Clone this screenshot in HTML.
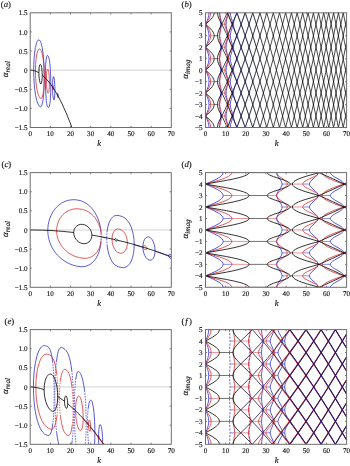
<!DOCTYPE html>
<html><head><meta charset="utf-8"><style>
html,body{margin:0;padding:0;background:#fff;}
svg{display:block;}
text{text-rendering:geometricPrecision;}
svg{will-change:transform;}
.t{font-family:"Liberation Serif",serif;font-size:7.1px;fill:#111;stroke:#111;stroke-width:0.14px;}
.k{font-family:"Liberation Serif",serif;font-size:8.5px;font-style:italic;fill:#111;stroke:#111;stroke-width:0.15px;}
.lab{font-family:"Liberation Serif",serif;font-size:8.7px;fill:#111;stroke:#111;stroke-width:0.15px;}
.al{font-family:"Liberation Serif",serif;font-size:9px;font-style:italic;fill:#111;stroke:#111;stroke-width:0.15px;}
.sub{font-size:7.2px;font-style:italic;}
</style></head><body>
<svg width="350" height="466" viewBox="0 0 350 466">
<rect width="350" height="466" fill="#fff"/>
<line x1="30.2" y1="70.15" x2="171.3" y2="70.15" stroke="#c8c8c8" stroke-width="0.8"/>
<line x1="30.2" y1="229.95" x2="171.3" y2="229.95" stroke="#c8c8c8" stroke-width="0.8"/>
<line x1="30.2" y1="386.95" x2="171.3" y2="386.95" stroke="#c8c8c8" stroke-width="0.8"/>
<defs>
<clipPath id="cp0"><rect x="30.2" y="12.8" width="141.1" height="114.7"/></clipPath>
<clipPath id="cp1"><rect x="205.5" y="12.8" width="141.1" height="114.7"/></clipPath>
<clipPath id="cp2"><rect x="30.2" y="172.6" width="141.1" height="114.7"/></clipPath>
<clipPath id="cp3"><rect x="205.5" y="172.6" width="141.1" height="114.7"/></clipPath>
<clipPath id="cp4"><rect x="30.2" y="329.6" width="141.1" height="114.7"/></clipPath>
<clipPath id="cp5"><rect x="205.5" y="329.6" width="141.1" height="114.7"/></clipPath>
</defs>
<path d="M33.68,70.58 33.9,61.72 34.48,53.98 35.41,47.46 36.63,42.71 37.33,41.17 38.07,40.21 38.84,39.91 39.61,40.25 40.33,41.16 40.99,42.64 42.19,47.34 43.23,54.68 43.94,63.88 44.27,73.82 44.19,84.01 43.73,93.26 42.91,100.61 42.4,103.22 41.82,105.2 41.21,106.39 40.54,106.88 39.96,106.75 39.27,106.16 37.96,103.96 36.77,100.51 35.7,95.87 34.85,90.43 34.22,84.25 33.82,77.49 33.68,70.58ZM45.35,77.92 45.44,70.52 45.72,64.17 46.15,59.28 46.71,56.36 47.07,55.6 47.46,55.41 48.04,55.92 48.53,56.76 49.27,59.37 49.88,63.58 50.37,69.52 50.69,76.67 50.8,84.4 50.69,92.27 50.39,98.75 49.92,103.6 49.32,106.56 48.98,107.3 48.6,107.58 48.24,107.45 47.79,106.97 47.2,105.75 46.7,103.6 46.26,100.41 45.59,90.6 45.35,77.92ZM52.51,86.84 52.69,80.87 53.18,77.2 53.51,76.6 53.84,76.93 54.45,80.19 54.85,86.33 54.9,93.03 54.56,98.01 54.29,99.43 53.96,99.95 53.69,99.7 53.43,98.91 52.95,95.99 52.63,91.67 52.51,86.84ZM57.41,94.83 57.62,93.53 57.83,93.68 58.04,94.36 58.22,96.46 57.97,97.6 57.59,96.75 57.41,94.83Z" stroke="#3030cc" stroke-width="0.8" fill="none" clip-path="url(#cp0)"/>
<path d="M35.43,71.1 35.61,64.48 36.1,58.74 36.87,53.99 37.89,50.64 38.47,49.62 39.09,49.05 39.72,48.99 40.36,49.42 40.96,50.23 41.51,51.45 42.54,55.17 43.4,60.67 44,67.43 44.27,74.67 44.21,82.01 43.82,88.65 43.14,93.93 42.22,97.25 41.69,98.15 41.14,98.52 40.65,98.45 40.09,98.04 39,96.39 38.01,93.77 37.12,90.24 36.41,86.1 35.87,81.41 35.54,76.3 35.43,71.1ZM46.41,79.03 46.63,72.83 46.9,70.66 47.24,69.36 47.45,69.06 47.66,69.03 48.17,69.75 48.59,71.2 48.94,73.42 49.39,79.47 49.37,86.28 48.92,91.37 48.58,92.73 48.18,93.23 47.8,92.98 47.48,92.31 46.93,89.45 46.54,84.69 46.41,79.03ZM52.78,87.23 52.95,85.42 53.11,85.45 53.27,86.18 53.37,88.66 53.14,90.02 52.89,89.18 52.78,87.23Z" stroke="#d83030" stroke-width="0.8" fill="none" clip-path="url(#cp0)"/>
<path d="M30.2,70.15 32.34,70.31 34.51,70.8 36.69,71.61 38.87,72.74M42.23,75.09 46.2,78.82 50.2,83.59 54.19,89.4 58.18,96.22 62.17,104.06 66.2,113.01 70.19,122.89 74.22,133.88 78.21,145.78 82.25,158.81 86.28,172.87 90.31,187.94 94.34,204.02 98.37,221.12 102.4,239.23 106.47,258.55 114.54,299.84 122.64,345.39 130.74,395 138.85,448.65 146.95,506.33 155.05,568.04 163.16,633.77 171.3,703.87M38.87,72.74 39.13,67.78 39.43,65.96 39.83,64.76 40.28,64.34 40.75,64.7 41.21,65.79 41.63,67.52 42.15,72.15 42.19,77.53 41.74,82.2 41.39,83.53 40.98,84.05 40.6,83.82 40.19,83.1 39.5,80.56 39.04,76.95 38.87,72.74Z" stroke="#000000" stroke-width="0.8" fill="none" clip-path="url(#cp0)"/>
<path d="M208.98,127.5H210.73M208.98,104.56H210.73M208.98,81.62H210.73M208.98,58.68H210.73M208.98,35.74H210.73M208.98,12.8H210.73M220.65,116.03H221.71M220.65,93.09H221.71M220.65,70.15H221.71M220.65,47.21H221.71M220.65,24.27H221.71M224.74,116.03H226.1M224.74,93.09H226.1M224.74,70.15H226.1M224.74,47.21H226.1M224.74,24.27H226.1M227.81,127.5H228.08M227.81,104.56H228.08M227.81,81.62H228.08M227.81,58.68H228.08M227.81,35.74H228.08M227.81,12.8H228.08M228.68,127.5H230.23M228.68,104.56H230.23M228.68,81.62H230.23M228.68,58.68H230.23M228.68,35.74H230.23M228.68,12.8H230.23M232.71,116.03H233.52M232.71,93.09H233.52M232.71,70.15H233.52M232.71,47.21H233.52M232.71,24.27H233.52" stroke="#5a5ad8" stroke-width="0.7" fill="none" clip-path="url(#cp1)"/>
<path d="M210.73,127.5H214.17M210.73,104.56H214.17M210.73,81.62H214.17M210.73,58.68H214.17M210.73,35.74H214.17M210.73,12.8H214.17M217.53,127.5H219.59M217.53,104.56H219.59M217.53,81.62H219.59M217.53,58.68H219.59M217.53,35.74H219.59M217.53,12.8H219.59M221.71,116.03H224.74M221.71,93.09H224.74M221.71,70.15H224.74M221.71,47.21H224.74M221.71,24.27H224.74M228.08,127.5H228.68M228.08,104.56H228.68M228.08,81.62H228.68M228.08,58.68H228.68M228.08,35.74H228.68M228.08,12.8H228.68" stroke="#e06868" stroke-width="0.7" fill="none" clip-path="url(#cp1)"/>
<path d="M214.17,127.5H217.53M214.17,104.56H217.53M214.17,81.62H217.53M214.17,58.68H217.53M214.17,35.74H217.53M214.17,12.8H217.53" stroke="#333333" stroke-width="0.7" fill="none" clip-path="url(#cp1)"/>
<path d="M233.72,136.54 234.12,134.72 234.81,132.65 237.15,127.58M226.26,136.66 227.55,130.42 227.81,127.53M230.23,127.48 230.62,124.53 232.43,118.54 232.71,116.05M233.52,116.01 233.72,113.6 234.37,110.97 235.41,108.24 237.15,104.64M206.59,136.65 207.68,134.04 208.4,131.78 208.85,129.57 208.98,127.52M219.59,127.47 219.77,124.38 220.54,118.43 220.65,116.06M226.1,116 226.3,113.45 227.55,107.48 227.81,104.59M230.23,104.54 230.62,101.59 232.43,95.6 232.71,93.11M233.52,93.07 233.72,90.66 234.37,88.03 235.41,85.3 237.15,81.7M205.5,116.03 207.19,112.32 208.2,109.55 208.81,106.91 208.98,104.58M219.59,104.53 219.77,101.44 220.54,95.49 220.65,93.12M226.1,93.06 226.3,90.51 227.55,84.54 227.81,81.65M230.23,81.6 230.62,78.65 232.43,72.66 232.71,70.17M233.52,70.13 233.72,67.72 234.37,65.09 235.41,62.36 237.15,58.76M205.5,93.09 207.19,89.38 208.2,86.61 208.81,83.97 208.98,81.64M219.59,81.59 219.77,78.5 220.54,72.55 220.65,70.18M226.1,70.12 226.3,67.57 227.55,61.6 227.81,58.71M230.23,58.66 230.62,55.71 232.43,49.72 232.71,47.23M233.52,47.19 233.72,44.78 234.37,42.15 235.41,39.42 237.15,35.82M205.5,70.15 207.19,66.44 208.2,63.67 208.81,61.03 208.98,58.7M219.59,58.65 219.77,55.56 220.54,49.61 220.65,47.24M226.1,47.18 226.3,44.63 227.55,38.66 227.81,35.77M230.23,35.72 230.62,32.77 232.43,26.78 232.71,24.29M233.52,24.25 233.72,21.84 234.37,19.21 235.41,16.48 237.15,12.88M205.5,47.21 207.19,43.5 208.2,40.73 208.81,38.09 208.98,35.76M219.59,35.71 219.77,32.62 220.54,26.67 220.65,24.3M226.1,24.24 226.3,21.69 227.55,15.72 227.81,12.83M230.23,12.78 230.62,9.83 232.47,3.65M205.5,24.27 207.19,20.56 208.2,17.79 208.81,15.15 208.98,12.82M219.59,12.77 219.77,9.68 220.54,3.73M205.5,116.03 207.19,119.74 208.2,122.51 208.81,125.15 208.98,127.48M219.59,127.53 219.77,130.62 220.54,136.57M205.5,93.09 207.19,96.8 208.2,99.57 208.81,102.21 208.98,104.54M219.59,104.59 219.77,107.68 220.54,113.63 220.65,116M226.1,116.06 226.3,118.61 227.55,124.58 227.81,127.47M230.23,127.52 230.62,130.47 232.47,136.65M205.5,70.15 207.19,73.86 208.2,76.63 208.81,79.27 208.98,81.6M219.59,81.65 219.77,84.74 220.54,90.69 220.65,93.06M226.1,93.12 226.3,95.67 227.55,101.64 227.81,104.53M230.23,104.58 230.62,107.53 232.43,113.52 232.71,116.01M233.52,116.05 233.72,118.46 234.37,121.09 235.41,123.82 237.15,127.42M205.5,47.21 207.19,50.92 208.2,53.69 208.81,56.33 208.98,58.66M219.59,58.71 219.77,61.8 220.54,67.75 220.65,70.12M226.1,70.18 226.3,72.73 227.55,78.7 227.81,81.59M230.23,81.64 230.62,84.59 232.43,90.58 232.71,93.07M233.52,93.11 233.72,95.52 234.37,98.15 235.41,100.88 237.15,104.48M205.5,24.27 207.19,27.98 208.2,30.75 208.81,33.39 208.98,35.72M219.59,35.77 219.77,38.86 220.54,44.81 220.65,47.18M226.1,47.24 226.3,49.79 227.55,55.76 227.81,58.65M230.23,58.7 230.62,61.65 232.43,67.64 232.71,70.13M233.52,70.17 233.72,72.58 234.37,75.21 235.41,77.94 237.15,81.54M206.59,3.65 207.68,6.26 208.4,8.52 208.85,10.73 208.98,12.78M219.59,12.83 219.77,15.92 220.54,21.87 220.65,24.24M226.1,24.3 226.3,26.85 227.55,32.82 227.81,35.71M230.23,35.76 230.62,38.71 232.43,44.7 232.71,47.19M233.52,47.23 233.72,49.64 234.37,52.27 235.41,55 237.15,58.6M226.26,3.64 227.55,9.88 227.81,12.77M230.23,12.82 230.62,15.77 232.43,21.76 232.71,24.25M233.52,24.29 233.72,26.7 234.37,29.33 235.41,32.06 237.15,35.66M233.72,3.76 234.12,5.58 234.81,7.65 237.15,12.72" stroke="#3030cc" stroke-width="0.8" fill="none" clip-path="url(#cp1)"/>
<path d="M225.09,136.55 227.55,130.48 227.96,128.9 228.08,127.52M228.68,127.48 228.88,125.02 229.49,122.47 230.49,119.74 232.19,116.09M207.15,136.62 208.77,134.04 209.85,131.79 210.5,129.67 210.73,127.52M219.59,127.48 219.93,124.48 221.46,118.54 221.71,116.05M224.74,116.01 225.13,113.47 227.55,107.54 227.96,105.96 228.08,104.58M228.68,104.54 228.88,102.08 229.49,99.53 230.49,96.8 232.19,93.15M205.5,116.03 208.04,112.33 209.53,109.6 210.42,107.09 210.73,104.58M219.59,104.54 219.93,101.54 221.46,95.6 221.71,93.11M224.74,93.07 225.13,90.53 227.55,84.6 227.96,83.02 228.08,81.64M228.68,81.6 228.88,79.14 229.49,76.59 230.49,73.86 232.19,70.21M205.5,93.09 208.04,89.39 209.53,86.66 210.42,84.15 210.73,81.64M219.59,81.6 219.93,78.6 221.46,72.66 221.71,70.17M224.74,70.13 225.13,67.59 227.55,61.66 227.96,60.08 228.08,58.7M228.68,58.66 228.88,56.2 229.49,53.65 230.49,50.92 232.19,47.27M205.5,70.15 208.04,66.45 209.53,63.72 210.42,61.21 210.73,58.7M219.59,58.66 219.93,55.66 221.46,49.72 221.71,47.23M224.74,47.19 225.13,44.65 227.55,38.72 227.96,37.14 228.08,35.76M228.68,35.72 228.88,33.26 229.49,30.71 230.49,27.98 232.19,24.33M205.5,47.21 208.04,43.51 209.53,40.78 210.42,38.27 210.73,35.76M219.59,35.72 219.93,32.72 221.46,26.78 221.71,24.29M224.74,24.25 225.13,21.71 227.55,15.78 227.96,14.2 228.08,12.82M228.68,12.78 228.84,10.59 229.25,8.62 229.97,6.35 231.1,3.68M205.5,24.27 208.04,20.57 209.53,17.84 210.42,15.33 210.73,12.82M219.59,12.78 219.93,9.78 221.46,3.84M205.5,116.03 208.04,119.73 209.53,122.46 210.42,124.97 210.73,127.48M219.59,127.52 219.93,130.52 221.46,136.46M205.5,93.09 208.04,96.79 209.53,99.52 210.42,102.03 210.73,104.54M219.59,104.58 219.93,107.58 221.46,113.52 221.71,116.01M224.74,116.05 225.13,118.59 227.55,124.52 227.96,126.1 228.08,127.48M228.68,127.52 228.84,129.71 229.25,131.68 229.97,133.95 231.1,136.62M205.5,70.15 208.04,73.85 209.53,76.58 210.42,79.09 210.73,81.6M219.59,81.64 219.93,84.64 221.46,90.58 221.71,93.07M224.74,93.11 225.13,95.65 227.55,101.58 227.96,103.16 228.08,104.54M228.68,104.58 228.88,107.04 229.49,109.59 230.49,112.32 232.19,115.97M205.5,47.21 208.04,50.91 209.53,53.64 210.42,56.15 210.73,58.66M219.59,58.7 219.93,61.7 221.46,67.64 221.71,70.13M224.74,70.17 225.13,72.71 227.55,78.64 227.96,80.22 228.08,81.6M228.68,81.64 228.88,84.1 229.49,86.65 230.49,89.38 232.19,93.03M205.5,24.27 208.04,27.97 209.53,30.7 210.42,33.21 210.73,35.72M219.59,35.76 219.93,38.76 221.46,44.7 221.71,47.19M224.74,47.23 225.13,49.77 227.55,55.7 227.96,57.28 228.08,58.66M228.68,58.7 228.88,61.16 229.49,63.71 230.49,66.44 232.19,70.09M207.15,3.68 208.77,6.26 209.85,8.51 210.5,10.63 210.73,12.78M219.59,12.82 219.93,15.82 221.46,21.76 221.71,24.25M224.74,24.29 225.13,26.83 227.55,32.76 227.96,34.34 228.08,35.72M228.68,35.76 228.88,38.22 229.49,40.77 230.49,43.5 232.19,47.15M225.09,3.75 227.55,9.82 227.96,11.4 228.08,12.78M228.68,12.82 228.88,15.28 229.49,17.83 230.49,20.56 232.19,24.21" stroke="#d83030" stroke-width="0.8" fill="none" clip-path="url(#cp1)"/>
<path d="M208.2,136.66 210.94,134.01 212.76,131.73 213.8,129.62 214.17,127.52M217.53,127.48 217.8,124.95 218.52,122.49 219.77,119.74 221.87,116.07M205.5,116.03 209.69,112.34 212.19,109.59 213.08,108.26 213.68,107.01 214.05,105.78 214.17,104.58M217.53,104.54 217.8,102.01 218.52,99.55 219.77,96.8 221.87,93.13M205.5,93.09 209.69,89.4 212.19,86.65 213.08,85.32 213.68,84.07 214.05,82.84 214.17,81.64M217.53,81.6 217.8,79.07 218.52,76.61 219.77,73.86 221.87,70.19M205.5,70.15 209.69,66.46 212.19,63.71 213.08,62.38 213.68,61.13 214.05,59.9 214.17,58.7M217.53,58.66 217.8,56.13 218.52,53.67 219.77,50.92 221.87,47.25M205.5,47.21 209.69,43.52 212.19,40.77 213.08,39.44 213.68,38.19 214.05,36.96 214.17,35.76M217.53,35.72 217.8,33.19 218.52,30.73 219.77,27.98 221.87,24.31M205.5,24.27 209.69,20.58 212.19,17.83 213.08,16.5 213.68,15.25 214.05,14.02 214.17,12.82M217.53,12.78 217.72,10.69 218.24,8.59 219.17,6.26 220.54,3.64M205.5,116.03 209.69,119.72 212.19,122.47 213.08,123.8 213.68,125.05 214.05,126.28 214.17,127.48M217.53,127.52 217.72,129.61 218.24,131.71 219.17,134.04 220.54,136.66M205.5,93.09 209.69,96.78 212.19,99.53 213.08,100.86 213.68,102.11 214.05,103.34 214.17,104.54M217.53,104.58 217.8,107.11 218.52,109.57 219.77,112.32 221.87,115.99M205.5,70.15 209.69,73.84 212.19,76.59 213.08,77.92 213.68,79.17 214.05,80.4 214.17,81.6M217.53,81.64 217.8,84.17 218.52,86.63 219.77,89.38 221.87,93.05M205.5,47.21 209.69,50.9 212.19,53.65 213.08,54.98 213.68,56.23 214.05,57.46 214.17,58.66M217.53,58.7 217.8,61.23 218.52,63.69 219.77,66.44 221.87,70.11M205.5,24.27 209.69,27.96 212.19,30.71 213.08,32.04 213.68,33.29 214.05,34.52 214.17,35.72M217.53,35.76 217.8,38.29 218.52,40.75 219.77,43.5 221.87,47.17M208.2,3.64 210.94,6.29 212.76,8.57 213.8,10.68 214.17,12.78M217.53,12.82 217.8,15.35 218.52,17.81 219.77,20.56 221.87,24.23" stroke="#000000" stroke-width="0.8" fill="none" clip-path="url(#cp1)"/>
<linearGradient id="gr1" gradientUnits="userSpaceOnUse" x1="231.7" y1="0" x2="265.97" y2="0"><stop offset="0" stop-color="#3030cc" stop-opacity="1"/><stop offset="1" stop-color="#3030cc" stop-opacity="0"/></linearGradient>
<path d="M270.85,136.54 274.03,125.1M264.24,136.61 274.03,102.16M257.34,136.57 265.57,109.12 274.03,79.22M250.05,136.57 255.89,118.3 261.82,98.9 267.87,78.23 274.03,56.28M242.23,136.6 249.85,114.24 257.71,89.52 265.77,62.55 274.03,33.34M237.19,127.5 245.94,102.98 255.01,75.25 264.4,44.3 274.03,10.4M237.19,104.56 244.89,83.1 252.87,59.04 261.05,32.64 269.48,3.75M237.19,81.62 243.36,64.57 249.68,45.91 256.18,25.64 262.83,3.75M237.19,58.68 241.7,46.32 246.34,32.98 255.85,3.73M237.19,35.74 242.75,20.42 248.48,3.68M237.19,12.8 240.53,3.7M237.19,127.5 240.53,136.6M237.19,104.56 242.75,119.88 248.48,136.62M237.19,81.62 241.7,93.98 246.34,107.32 255.85,136.57M237.19,58.68 243.36,75.73 249.68,94.39 256.18,114.66 262.83,136.55M237.19,35.74 244.89,57.2 252.87,81.26 261.05,107.66 269.48,136.55M237.19,12.8 245.94,37.32 255.01,65.05 264.4,96 274.03,129.9M242.23,3.7 249.85,26.06 257.71,50.78 265.77,77.75 274.03,106.96M250.05,3.73 255.89,22 261.82,41.4 267.87,62.07 274.03,84.02M257.34,3.73 265.57,31.18 274.03,61.08M264.24,3.69 274.03,38.14M270.85,3.76 274.03,15.2" stroke="url(#gr1)" stroke-width="0.6" fill="none" clip-path="url(#cp1)"/>
<path d="M346.08,136.63 346.6,134.07M341.36,136.58 346.6,111.13M336.56,136.57 346.6,88.19M331.68,136.6 346.6,65.25M326.73,136.62 336.6,90.5 346.6,42.31M321.69,136.62 334.02,79.76 346.6,19.37M316.57,136.57 330.68,72.48 345.11,3.71M311.33,136.6 325.68,72.61 340.35,3.78M305.96,136.67 313.22,105.4 320.56,72.89 335.55,3.71M300.52,136.56 307.9,105.48 315.4,72.91 322.98,39.03 330.68,3.66M294.92,136.57 302.46,105.57 310.08,73.18 317.82,39.26 325.68,3.79M289.15,136.62 296.81,105.94 304.63,73.48 312.57,39.4 320.64,3.7M283.23,136.62 291.09,106.03 299.07,73.74 307.21,39.59 315.48,3.73M277.1,136.65 285.16,106.27 293.34,74.08 301.73,39.78 310.24,3.67M270.77,136.58 279.03,106.54 287.46,74.43 296.09,40.07 304.87,3.64M264.16,136.56 272.66,106.89 281.37,74.84 290.28,40.41 299.35,3.76M257.18,136.65 265.97,107.44 275,75.51 284.27,40.86 293.75,3.64M249.85,136.56 258.96,107.97 268.35,76.27 278.03,41.47 287.94,3.72M241.9,136.62 246.58,123.31 251.38,108.97 261.25,77.47 271.45,42.39 281.98,3.73M233.16,136.66 238.03,124.17 243.07,110.42 248.23,95.5 253.55,79.31 258.96,62.09 264.48,43.71 270.08,24.31 275.81,3.75M223.04,136.66 228.2,125.51 233.56,112.72 239.12,98.33 244.89,82.32 250.81,64.81 256.86,45.92 263.07,25.53 269.44,3.64M221.91,116 226.46,106.45 231.18,95.59 236.1,83.35 241.18,69.8 246.38,55.07 251.7,39.16 257.18,21.95 262.75,3.68M221.91,93.06 225.74,85.09 229.69,76.19 233.76,66.34 237.95,55.57 242.27,43.85 246.66,31.31 255.73,3.64M221.91,70.12 228.04,57.05 234.49,41.58 241.22,23.81 248.23,3.74M221.91,47.18 226.22,38.16 230.74,27.83 235.41,16.29 240.21,3.63M221.91,24.24 226.46,14.69 231.26,3.64M221.91,116.06 226.46,125.61 231.26,136.66M221.91,93.12 226.22,102.14 230.74,112.47 235.41,124.01 240.21,136.67M221.91,70.18 228.04,83.25 234.49,98.72 241.22,116.49 248.23,136.56M221.91,47.24 225.74,55.21 229.69,64.11 233.76,73.96 237.95,84.73 242.27,96.45 246.66,108.99 255.73,136.66M221.91,24.3 226.46,33.85 231.18,44.71 236.1,56.95 241.18,70.5 246.38,85.23 251.7,101.14 257.18,118.35 262.75,136.62M223.04,3.64 228.2,14.79 233.56,27.58 239.12,41.97 244.89,57.98 250.81,75.49 256.86,94.38 263.07,114.77 269.44,136.66M233.16,3.64 238.03,16.13 243.07,29.88 248.23,44.8 253.55,60.99 258.96,78.21 264.48,96.59 270.08,115.99 275.81,136.55M241.9,3.68 246.58,16.99 251.38,31.33 261.25,62.83 271.45,97.91 281.98,136.57M249.85,3.74 258.96,32.33 268.35,64.03 278.03,98.83 287.94,136.58M257.18,3.65 265.97,32.86 275,64.79 284.27,99.44 293.75,136.66M264.16,3.74 272.66,33.41 281.37,65.46 290.28,99.89 299.35,136.54M270.77,3.72 279.03,33.76 287.46,65.87 296.09,100.23 304.87,136.66M277.1,3.65 285.16,34.03 293.34,66.22 301.73,100.52 310.24,136.63M283.23,3.68 291.09,34.27 299.07,66.56 307.21,100.71 315.48,136.57M289.15,3.68 296.81,34.36 304.63,66.82 312.57,100.9 320.64,136.6M294.92,3.73 302.46,34.73 310.08,67.12 317.82,101.04 325.68,136.51M300.52,3.74 307.9,34.82 315.4,67.39 322.98,101.27 330.68,136.64M305.96,3.63 313.22,34.9 320.56,67.41 335.55,136.59M311.33,3.7 325.68,67.69 340.35,136.52M316.57,3.73 330.68,67.82 345.11,136.59M321.69,3.68 334.02,60.54 346.6,120.93M326.73,3.68 336.6,49.8 346.6,97.99M331.68,3.7 346.6,75.05M336.56,3.73 346.6,52.11M341.36,3.72 346.6,29.17M346.08,3.67 346.6,6.23" stroke="#000" stroke-width="0.72" fill="none" clip-path="url(#cp1)"/>
<path d="M47.8,230.37 47.93,227.17 48.28,224.4 48.88,221.46 49.8,218.4 50.91,215.62 52.18,213.12 53.66,210.75 55.36,208.53 57.27,206.49 59.23,204.78 61.52,203.18 63.8,201.93 66.2,200.95 68.7,200.24 71.26,199.83 73.86,199.7 76.25,199.85 79.01,200.3 81.32,200.95 83.54,201.85 85.65,202.99 87.78,204.47 89.75,206.17 91.68,208.19 93.41,210.39 95.06,212.89 96.5,215.52 97.74,218.25 98.85,221.24 99.76,224.31 100.54,227.82 101.01,230.98M100.99,242.95 100.55,245.91 99.85,249.03 98.98,251.9 97.96,254.5 96.81,256.83 95.44,259.04 93.97,260.94 92.29,262.65 90.57,264.01 88.86,265.04 86.84,265.89 84.91,266.41 82.92,266.66 80.73,266.66 78.15,266.37 75.6,265.87 72.72,265.04 69.92,263.97 67.22,262.67 64.64,261.15 62.19,259.42 59.89,257.5 57.62,255.25 55.67,252.97 53.92,250.54 52.36,247.98 51.02,245.3 49.84,242.33 49.02,239.65 48.33,236.53 47.94,233.56 47.8,230.37M107.08,231.24 107.85,226.71 109.04,222.69 110.61,219.45 111.53,218.15 112.5,217.13 113.44,216.4 114.5,215.84 116.64,215.38 119.41,215.69 122.83,216.8 125.21,218.27 127.36,220.35 129.3,223.13 130.9,226.36 132.29,230.32 133.3,234.6 133.97,239.35 134.21,244.14 134.04,248.93 133.48,253.5 132.54,257.59 131.3,260.97 129.74,263.75 127.86,265.82 125.82,267.06 123.49,267.58 122.09,267.55 120.51,267.3 118.57,266.81 117.08,266.25 114.73,264.73 112.71,262.53 110.77,259.27 109.21,255.37 107.99,250.73 107.15,245.6M142.88,247.03 143.09,244.04 143.65,241.51 144.6,239.31 145.85,237.76 147.23,236.98 148.02,236.85 148.81,236.93 150.42,237.71 151.8,239.15 153.11,241.39 154.15,244.2 154.81,247.33 155.07,250.52 154.9,253.51 154.33,256.04 153.43,258.04 152.11,259.54 150.67,260.19 149.09,260.06 147.53,259.19 146.01,257.6 144.68,255.37 143.69,252.76 143.1,250.02 142.88,247.03M168.48,255.68 168.68,254.92 169.29,254.45 170.08,254.41 170.99,254.77 171.74,255.41 172.28,256.24 172.51,257.19 172.31,257.95 171.88,258.35 171.31,258.49 170,258.1 168.89,256.99 168.48,255.68" stroke="#3030cc" stroke-width="0.8" fill="none" clip-path="url(#cp2)"/>
<path d="M100.99,230.79 101.35,236.77 100.97,243.15M106.7,237.82 106.81,234.23 107.1,231.04M107.17,245.8 106.82,241.82 106.7,237.82" stroke="#5a5ad8" stroke-width="0.9" stroke-dasharray="1.6,1.1" fill="none" clip-path="url(#cp2)"/>
<path d="M56.61,230.89 56.72,228.49 57.03,226.32 57.53,224.18 58.29,221.9 59.2,219.9 60.3,218 61.59,216.22 62.91,214.72 64.53,213.23 66.13,212.04 68.02,210.92 69.85,210.1 71.74,209.47 73.89,209 75.88,208.79 78.07,208.78 82.42,209.42 84.53,210.04 86.38,210.79 88.15,211.72 89.99,212.92 91.71,214.29 93.3,215.81 94.87,217.63 96.27,219.57 98.57,223.78 100.24,228.48 101.15,233.19M101.14,240.57 100.25,245.07 99.56,247.16 98.68,249.18 97.71,250.93 96.57,252.56 95.25,254.06 93.91,255.26 92.43,256.29 90.84,257.12 89.34,257.68 87.59,258.11 84.01,258.33 79.66,257.74 75.07,256.35 72.87,255.39 70.58,254.16 68.41,252.74 66.51,251.27 63.11,247.89 61.63,246.01 60.31,244 58.3,239.87 57.6,237.79 57.04,235.46 56.72,233.28 56.61,230.89M112.04,238.96 112.27,235.98 112.98,233.28 114.09,231.16 114.87,230.26 115.65,229.64 117.33,229.02 119.3,229.16 121.52,230.05 123.39,231.54 124.85,233.43 126.1,235.93 126.95,238.79 127.34,241.76 127.23,244.95 126.67,247.69 125.67,250.07 124.34,251.81 123.39,252.54 122.49,252.96 121.52,253.19 120.33,253.2 118.96,252.93 117.84,252.49 116.83,251.85 115.95,251.05 114.32,248.78 113.08,245.84 112.31,242.54 112.04,238.96M143.08,247.1 143.26,246.34 143.83,245.81 144.6,245.69 145.35,245.92 146.14,246.5 146.69,247.32 146.91,248.27 146.73,249.03 146.33,249.47 145.78,249.67 144.64,249.45 143.99,249 143.49,248.4 143.08,247.1" stroke="#d83030" stroke-width="0.8" fill="none" clip-path="url(#cp2)"/>
<path d="M101.12,232.99 101.35,236.78 101.11,240.77" stroke="#e06868" stroke-width="0.9" stroke-dasharray="1.6,1.1" fill="none" clip-path="url(#cp2)"/>
<path d="M30.2,229.95 41.08,230.11 51.97,230.59 62.85,231.38 73.74,232.5M91.88,235.07 103.37,237.15 114.86,239.59M117.08,240.11 130.66,243.53 144.21,247.44 157.75,251.84 171.3,256.74M73.74,232.5 73.97,230.47 74.6,228.66 75.6,227.11 76.97,225.82 78.6,224.9 80.42,224.42 82.33,224.37 84.29,224.76 86.2,225.59 87.93,226.79 89.43,228.34 90.61,230.13 91.43,232.1 91.83,234.1 91.83,236.09 91.43,238.1 90.79,239.62 89.93,240.92 88.83,242.01 87.52,242.87 86.06,243.43 84.52,243.68 82.92,243.63 81.33,243.28 79.79,242.63 78.33,241.71 77.01,240.54 75.88,239.17 74.97,237.64 74.29,235.96 73.88,234.23 73.74,232.5ZM114.86,239.59 114.97,239.13 115.27,238.8 115.71,238.68 116.2,238.78 116.95,239.54 117.08,240.05 116.99,240.53 116.5,240.98 115.77,240.93 115.12,240.38 114.86,239.59Z" stroke="#000000" stroke-width="0.8" fill="none" clip-path="url(#cp2)"/>
<path d="M223.1,287.3H231.91M223.1,264.36H231.91M223.1,241.42H231.91M223.1,218.48H231.91M223.1,195.54H231.91M223.1,172.6H231.91M282,275.83H287.34M282,252.89H287.34M282,229.95H287.34M282,207.01H287.34M282,184.07H287.34M302.66,275.83H309.51M302.66,252.89H309.51M302.66,229.95H309.51M302.66,207.01H309.51M302.66,184.07H309.51M318.18,287.3H318.38M318.18,264.36H318.38M318.18,241.42H318.38M318.18,218.48H318.38M318.18,195.54H318.38M318.18,172.6H318.38M322.21,287.3H330.37M322.21,264.36H330.37M322.21,241.42H330.37M322.21,218.48H330.37M322.21,195.54H330.37M322.21,172.6H330.37M343.78,275.83H347.81M343.78,252.89H347.81M343.78,229.95H347.81M343.78,207.01H347.81M343.78,184.07H347.81" stroke="#5a5ad8" stroke-width="0.7" fill="none" clip-path="url(#cp3)"/>
<path d="M231.91,287.3H249.04M231.91,264.36H249.04M231.91,241.42H249.04M231.91,218.48H249.04M231.91,195.54H249.04M231.91,172.6H249.04M267.18,287.3H276.65M267.18,264.36H276.65M267.18,241.42H276.65M267.18,218.48H276.65M267.18,195.54H276.65M267.18,172.6H276.65M287.34,275.83H290.16M287.34,252.89H290.16M287.34,229.95H290.16M287.34,207.01H290.16M287.34,184.07H290.16M292.38,275.83H302.66M292.38,252.89H302.66M292.38,229.95H302.66M292.38,207.01H302.66M292.38,184.07H302.66M318.38,287.3H322.21M318.38,264.36H322.21M318.38,241.42H322.21M318.38,218.48H322.21M318.38,195.54H322.21M318.38,172.6H322.21" stroke="#e06868" stroke-width="0.7" fill="none" clip-path="url(#cp3)"/>
<path d="M249.04,287.3H267.18M249.04,264.36H267.18M249.04,241.42H267.18M249.04,218.48H267.18M249.04,195.54H267.18M249.04,172.6H267.18M290.16,275.83H292.38M290.16,252.89H292.38M290.16,229.95H292.38M290.16,207.01H292.38M290.16,184.07H292.38" stroke="#333333" stroke-width="0.7" fill="none" clip-path="url(#cp3)"/>
<path d="M310.36,296.45 311.81,294.82 315.48,291.62 316.85,290.24 317.86,288.72 318.18,287.31M330.37,287.29 330.51,286.55 330.88,285.88 332.45,284.35 334.59,282.95 340.15,279.83 342.25,278.35 343.42,277.04 343.78,275.84M210.94,296.47 216.51,293.84 220.17,291.57 221.46,290.47 222.35,289.43 222.92,288.35 223.1,287.31M276.65,287.3 276.82,286.02 277.26,284.79 278.11,283.3 281.17,278.78 281.77,277.33 282,275.84M309.51,275.82 309.75,274.6 310.52,273.29 311.89,271.8 315.48,268.68 316.85,267.3 317.86,265.78 318.18,264.37M330.37,264.35 330.51,263.61 330.88,262.94 332.45,261.41 334.59,260.01 340.15,256.89 342.25,255.41 343.42,254.1 343.78,252.9M205.5,275.83 213.97,272.17 219.05,269.42 220.86,268.08 222.11,266.82 222.84,265.62 223.1,264.37M276.65,264.36 276.82,263.08 277.26,261.85 278.11,260.36 281.17,255.84 281.77,254.39 282,252.9M309.51,252.88 309.75,251.66 310.52,250.35 311.89,248.86 315.48,245.74 316.85,244.36 317.86,242.84 318.18,241.43M330.37,241.41 330.51,240.67 330.88,240 332.45,238.47 334.59,237.07 340.15,233.95 342.25,232.47 343.42,231.16 343.78,229.96M205.5,252.89 213.97,249.23 219.05,246.48 220.86,245.14 222.11,243.88 222.84,242.68 223.1,241.43M276.65,241.42 276.82,240.14 277.26,238.91 278.11,237.42 281.17,232.9 281.77,231.45 282,229.96M309.51,229.94 309.75,228.72 310.52,227.41 311.89,225.92 315.48,222.8 316.85,221.42 317.86,219.9 318.18,218.49M330.37,218.47 330.51,217.73 330.88,217.06 332.45,215.53 334.59,214.13 340.15,211.01 342.25,209.53 343.42,208.22 343.78,207.02M205.5,229.95 213.97,226.29 219.05,223.54 220.86,222.2 222.11,220.94 222.84,219.74 223.1,218.49M276.65,218.48 276.82,217.2 277.26,215.97 278.11,214.48 281.17,209.96 281.77,208.51 282,207.02M309.51,207 309.75,205.78 310.52,204.47 311.89,202.98 315.48,199.86 316.85,198.48 317.86,196.96 318.18,195.55M330.37,195.53 330.51,194.79 330.88,194.12 332.45,192.59 334.59,191.19 340.15,188.07 342.25,186.59 343.42,185.28 343.78,184.08M205.5,207.01 213.97,203.35 219.05,200.6 220.86,199.26 222.11,198 222.84,196.8 223.1,195.55M276.65,195.54 276.82,194.26 277.26,193.03 278.11,191.54 281.17,187.02 281.77,185.57 282,184.08M309.51,184.06 309.75,182.84 310.52,181.53 311.89,180.04 315.48,176.92 316.85,175.54 317.86,174.02 318.18,172.61M330.37,172.59 330.51,171.85 330.88,171.18 332.41,169.68 334.55,168.28 340.27,165.05 342.49,163.43M205.5,184.07 213.97,180.41 219.05,177.66 220.86,176.32 222.11,175.06 222.84,173.86 223.1,172.61M276.65,172.6 276.86,171.17 277.46,169.69 280.57,165.1 281.45,163.5M205.5,275.83 213.97,279.49 219.05,282.24 220.86,283.58 222.11,284.84 222.84,286.04 223.1,287.29M276.65,287.3 276.86,288.73 277.46,290.21 280.57,294.8 281.45,296.4M205.5,252.89 213.97,256.55 219.05,259.3 220.86,260.64 222.11,261.9 222.84,263.1 223.1,264.35M276.65,264.36 276.82,265.64 277.26,266.87 278.11,268.36 281.17,272.88 281.77,274.33 282,275.82M309.51,275.84 309.75,277.06 310.52,278.37 311.89,279.86 315.48,282.98 316.85,284.36 317.86,285.88 318.18,287.29M330.37,287.31 330.51,288.05 330.88,288.72 332.41,290.22 334.55,291.62 340.27,294.85 342.49,296.47M205.5,229.95 213.97,233.61 219.05,236.36 220.86,237.7 222.11,238.96 222.84,240.16 223.1,241.41M276.65,241.42 276.82,242.7 277.26,243.93 278.11,245.42 281.17,249.94 281.77,251.39 282,252.88M309.51,252.9 309.75,254.12 310.52,255.43 311.89,256.92 315.48,260.04 316.85,261.42 317.86,262.94 318.18,264.35M330.37,264.37 330.51,265.11 330.88,265.78 332.45,267.31 334.59,268.71 340.15,271.83 342.25,273.31 343.42,274.62 343.78,275.82M205.5,207.01 213.97,210.67 219.05,213.42 220.86,214.76 222.11,216.02 222.84,217.22 223.1,218.47M276.65,218.48 276.82,219.76 277.26,220.99 278.11,222.48 281.17,227 281.77,228.45 282,229.94M309.51,229.96 309.75,231.18 310.52,232.49 311.89,233.98 315.48,237.1 316.85,238.48 317.86,240 318.18,241.41M330.37,241.43 330.51,242.17 330.88,242.84 332.45,244.37 334.59,245.77 340.15,248.89 342.25,250.37 343.42,251.68 343.78,252.88M205.5,184.07 213.97,187.73 219.05,190.48 220.86,191.82 222.11,193.08 222.84,194.28 223.1,195.53M276.65,195.54 276.82,196.82 277.26,198.05 278.11,199.54 281.17,204.06 281.77,205.51 282,207M309.51,207.02 309.75,208.24 310.52,209.55 311.89,211.04 315.48,214.16 316.85,215.54 317.86,217.06 318.18,218.47M330.37,218.49 330.51,219.23 330.88,219.9 332.45,221.43 334.59,222.83 340.15,225.95 342.25,227.43 343.42,228.74 343.78,229.94M210.94,163.43 216.51,166.06 220.17,168.33 221.46,169.43 222.35,170.47 222.92,171.55 223.1,172.59M276.65,172.6 276.82,173.88 277.26,175.11 278.11,176.6 281.17,181.12 281.77,182.57 282,184.06M309.51,184.08 309.75,185.3 310.52,186.61 311.89,188.1 315.48,191.22 316.85,192.6 317.86,194.12 318.18,195.53M330.37,195.55 330.51,196.29 330.88,196.96 332.45,198.49 334.59,199.89 340.15,203.01 342.25,204.49 343.42,205.8 343.78,207M310.36,163.45 311.81,165.08 315.48,168.28 316.85,169.66 317.86,171.18 318.18,172.59M330.37,172.61 330.51,173.35 330.88,174.02 332.45,175.55 334.59,176.95 340.15,180.07 342.25,181.55 343.42,182.86 343.78,184.06" stroke="#3030cc" stroke-width="0.8" fill="none" clip-path="url(#cp3)"/>
<path d="M304.19,296.45 306.81,294.83 313.46,291.63 315.96,290.24 317.78,288.74 318.22,288.04 318.38,287.31M322.21,287.29 322.53,286.03 323.42,284.82 324.95,283.55 327.09,282.25 333.18,279.51 343.42,275.84M213.68,296.47 222.03,293.83 227.55,291.55 229.45,290.48 230.82,289.4 231.62,288.37 231.91,287.31M276.65,287.3 276.94,286.11 277.86,284.79 279.56,283.3 283.99,280.17 285.69,278.78 286.93,277.26 287.34,275.84M302.66,275.82 302.82,275.09 303.26,274.39 305.08,272.89 307.58,271.5 314.11,268.36 316.57,266.89 317.94,265.59 318.26,265 318.38,264.37M322.21,264.35 322.53,263.09 323.42,261.88 324.95,260.61 327.09,259.31 333.18,256.57 343.42,252.9M205.5,275.83 218.24,272.15 222.47,270.73 225.86,269.4 228.52,268.1 230.41,266.83 231.54,265.57 231.91,264.37M276.65,264.36 276.94,263.17 277.86,261.85 279.56,260.36 283.99,257.23 285.69,255.84 286.93,254.32 287.34,252.9M302.66,252.88 302.82,252.15 303.26,251.45 305.08,249.95 307.58,248.56 314.11,245.42 316.57,243.95 317.94,242.65 318.26,242.06 318.38,241.43M322.21,241.41 322.53,240.15 323.42,238.94 324.95,237.67 327.09,236.37 333.18,233.63 343.42,229.96M205.5,252.89 218.24,249.21 222.47,247.79 225.86,246.46 228.52,245.16 230.41,243.89 231.54,242.63 231.91,241.43M276.65,241.42 276.94,240.23 277.86,238.91 279.56,237.42 283.99,234.29 285.69,232.9 286.93,231.38 287.34,229.96M302.66,229.94 302.78,229.31 303.1,228.72 304.47,227.42 306.93,225.95 313.46,222.81 315.96,221.42 317.78,219.92 318.22,219.22 318.38,218.49M322.21,218.47 322.53,217.21 323.42,216 324.95,214.73 327.09,213.43 333.18,210.69 343.42,207.02M205.5,229.95 218.24,226.27 222.47,224.85 225.86,223.52 228.52,222.22 230.41,220.95 231.54,219.69 231.91,218.49M276.65,218.48 276.94,217.29 277.86,215.97 279.56,214.48 283.99,211.35 285.69,209.96 286.93,208.44 287.34,207.02M302.66,207 302.78,206.37 303.1,205.78 304.47,204.48 306.93,203.01 313.46,199.87 315.96,198.48 317.78,196.98 318.22,196.28 318.38,195.55M322.21,195.53 322.53,194.27 323.42,193.06 324.95,191.79 327.09,190.49 333.18,187.75 343.42,184.08M205.5,207.01 218.24,203.33 222.47,201.91 225.86,200.58 228.52,199.28 230.41,198.01 231.54,196.75 231.91,195.55M276.65,195.54 276.94,194.35 277.86,193.03 279.56,191.54 283.99,188.41 285.69,187.02 286.93,185.5 287.34,184.08M302.66,184.06 302.82,183.33 303.26,182.63 305.08,181.13 307.58,179.74 314.11,176.6 316.57,175.13 317.94,173.83 318.26,173.24 318.38,172.61M322.21,172.59 322.45,171.5 323.1,170.48 324.19,169.42 325.72,168.34 330.15,166.07 336.84,163.43M205.5,184.07 218.24,180.39 222.47,178.97 225.86,177.64 228.52,176.34 230.41,175.07 231.54,173.81 231.91,172.61M276.65,172.6 277.06,171.17 278.31,169.65 280,168.26 284.52,165.07 286.29,163.46M205.5,275.83 218.24,279.51 222.47,280.93 225.86,282.26 228.52,283.56 230.41,284.83 231.54,286.09 231.91,287.29M276.65,287.3 277.06,288.73 278.31,290.25 280,291.64 284.52,294.83 286.29,296.44M205.5,252.89 218.24,256.57 222.47,257.99 225.86,259.32 228.52,260.62 230.41,261.89 231.54,263.15 231.91,264.35M276.65,264.36 276.94,265.55 277.86,266.87 279.56,268.36 283.99,271.49 285.69,272.88 286.93,274.4 287.34,275.82M302.66,275.84 302.82,276.57 303.26,277.27 305.08,278.77 307.58,280.16 314.11,283.3 316.57,284.77 317.94,286.07 318.26,286.66 318.38,287.29M322.21,287.31 322.45,288.4 323.1,289.42 324.19,290.48 325.72,291.56 330.15,293.83 336.84,296.47M205.5,229.95 218.24,233.63 222.47,235.05 225.86,236.38 228.52,237.68 230.41,238.95 231.54,240.21 231.91,241.41M276.65,241.42 276.94,242.61 277.86,243.93 279.56,245.42 283.99,248.55 285.69,249.94 286.93,251.46 287.34,252.88M302.66,252.9 302.82,253.63 303.26,254.33 305.08,255.83 307.58,257.22 314.11,260.36 316.57,261.83 317.94,263.13 318.26,263.72 318.38,264.35M322.21,264.37 322.53,265.63 323.42,266.84 324.95,268.11 327.09,269.41 333.18,272.15 343.42,275.82M205.5,207.01 218.24,210.69 222.47,212.11 225.86,213.44 228.52,214.74 230.41,216.01 231.54,217.27 231.91,218.47M276.65,218.48 276.94,219.67 277.86,220.99 279.56,222.48 283.99,225.61 285.69,227 286.93,228.52 287.34,229.94M302.66,229.96 302.82,230.69 303.26,231.39 305.08,232.89 307.58,234.28 314.11,237.42 316.57,238.89 317.94,240.19 318.26,240.78 318.38,241.41M322.21,241.43 322.53,242.69 323.42,243.9 324.95,245.17 327.09,246.47 333.18,249.21 343.42,252.88M205.5,184.07 218.24,187.75 222.47,189.17 225.86,190.5 228.52,191.8 230.41,193.07 231.54,194.33 231.91,195.53M276.65,195.54 276.94,196.73 277.86,198.05 279.56,199.54 283.99,202.67 285.69,204.06 286.93,205.58 287.34,207M302.66,207.02 302.82,207.75 303.26,208.45 305.08,209.95 307.58,211.34 314.11,214.48 316.57,215.95 317.94,217.25 318.26,217.84 318.38,218.47M322.21,218.49 322.53,219.75 323.42,220.96 324.95,222.23 327.09,223.53 333.18,226.27 343.42,229.94M213.68,163.43 222.03,166.07 227.55,168.35 229.45,169.42 230.82,170.5 231.62,171.53 231.91,172.59M276.65,172.6 276.94,173.79 277.86,175.11 279.56,176.6 283.99,179.73 285.69,181.12 286.93,182.64 287.34,184.06M302.66,184.08 302.82,184.81 303.26,185.51 305.08,187.01 307.58,188.4 314.11,191.54 316.57,193.01 317.94,194.31 318.26,194.9 318.38,195.53M322.21,195.55 322.53,196.81 323.42,198.02 324.95,199.29 327.09,200.59 333.18,203.33 343.42,207M304.19,163.45 306.81,165.07 313.46,168.27 315.96,169.66 317.78,171.16 318.22,171.86 318.38,172.59M322.21,172.61 322.53,173.87 323.42,175.08 324.95,176.35 327.09,177.65 333.18,180.39 343.42,184.06" stroke="#d83030" stroke-width="0.8" fill="none" clip-path="url(#cp3)"/>
<path d="M293.71,296.45 295,295.5 296.73,294.53 301.61,292.49 308.38,290.28 318.9,287.31M218.96,296.47 232.75,293.83 241.86,291.55 245.01,290.47 247.27,289.39 248.6,288.34 248.92,287.84 249.04,287.31M267.18,287.29 267.34,286.69 267.83,286.07 269.8,284.78 273.43,283.29 282.94,280.17 286.61,278.78 289.27,277.27 289.92,276.58 290.16,275.84M292.38,275.82 292.74,274.62 293.87,273.37 295.76,272.1 298.46,270.79 301.85,269.46 306.12,268.04 318.9,264.37M205.5,275.83 226.54,272.15 233.56,270.72 239.08,269.4 243.48,268.09 246.58,266.83 248.43,265.58 248.88,264.99 249.04,264.37M267.18,264.35 267.34,263.75 267.83,263.13 269.8,261.84 273.43,260.35 282.94,257.23 286.61,255.84 289.27,254.33 289.92,253.64 290.16,252.9M292.38,252.88 292.74,251.68 293.87,250.43 295.76,249.16 298.46,247.85 301.85,246.52 306.12,245.1 318.9,241.43M205.5,252.89 226.54,249.21 233.56,247.78 239.08,246.46 243.48,245.15 246.58,243.89 248.43,242.64 248.88,242.05 249.04,241.43M267.18,241.41 267.34,240.81 267.83,240.19 269.8,238.9 273.43,237.41 282.94,234.29 286.61,232.9 289.27,231.39 289.92,230.7 290.16,229.96M292.38,229.94 292.74,228.74 293.87,227.49 295.76,226.22 298.46,224.91 301.85,223.58 306.12,222.16 318.9,218.49M205.5,229.95 226.54,226.27 233.56,224.84 239.08,223.52 243.48,222.21 246.58,220.95 248.43,219.7 248.88,219.11 249.04,218.49M267.18,218.47 267.34,217.87 267.83,217.25 269.8,215.96 273.43,214.47 282.94,211.35 286.61,209.96 289.27,208.45 289.92,207.76 290.16,207.02M292.38,207 292.74,205.8 293.87,204.55 295.76,203.28 298.46,201.97 301.85,200.64 306.12,199.22 318.9,195.55M205.5,207.01 226.54,203.33 233.56,201.9 239.08,200.58 243.48,199.27 246.58,198.01 248.43,196.76 248.88,196.17 249.04,195.55M267.18,195.53 267.34,194.93 267.83,194.31 269.8,193.02 273.43,191.53 282.94,188.41 286.61,187.02 289.27,185.51 289.92,184.82 290.16,184.08M292.38,184.06 292.74,182.86 293.87,181.61 295.76,180.34 298.46,179.03 301.85,177.7 306.12,176.28 318.9,172.61M205.5,184.07 226.54,180.39 233.56,178.96 239.08,177.64 243.48,176.33 246.58,175.07 248.43,173.82 248.88,173.23 249.04,172.61M267.18,172.59 267.42,171.85 268.07,171.16 270.69,169.67 274.32,168.28 284.15,165.05 287.94,163.44M205.5,275.83 226.54,279.51 233.56,280.94 239.08,282.26 243.48,283.57 246.58,284.83 248.43,286.08 248.88,286.67 249.04,287.29M267.18,287.31 267.42,288.05 268.07,288.74 270.69,290.23 274.32,291.62 284.15,294.85 287.94,296.46M205.5,252.89 226.54,256.57 233.56,258 239.08,259.32 243.48,260.63 246.58,261.89 248.43,263.14 248.88,263.73 249.04,264.35M267.18,264.37 267.34,264.97 267.83,265.59 269.8,266.88 273.43,268.37 282.94,271.49 286.61,272.88 289.27,274.39 289.92,275.08 290.16,275.82M292.38,275.84 292.74,277.04 293.87,278.29 295.76,279.56 298.46,280.87 301.85,282.2 306.12,283.62 318.9,287.29M205.5,229.95 226.54,233.63 233.56,235.06 239.08,236.38 243.48,237.69 246.58,238.95 248.43,240.2 248.88,240.79 249.04,241.41M267.18,241.43 267.34,242.03 267.83,242.65 269.8,243.94 273.43,245.43 282.94,248.55 286.61,249.94 289.27,251.45 289.92,252.14 290.16,252.88M292.38,252.9 292.74,254.1 293.87,255.35 295.76,256.62 298.46,257.93 301.85,259.26 306.12,260.68 318.9,264.35M205.5,207.01 226.54,210.69 233.56,212.12 239.08,213.44 243.48,214.75 246.58,216.01 248.43,217.26 248.88,217.85 249.04,218.47M267.18,218.49 267.34,219.09 267.83,219.71 269.8,221 273.43,222.49 282.94,225.61 286.61,227 289.27,228.51 289.92,229.2 290.16,229.94M292.38,229.96 292.74,231.16 293.87,232.41 295.76,233.68 298.46,234.99 301.85,236.32 306.12,237.74 318.9,241.41M205.5,184.07 226.54,187.75 233.56,189.18 239.08,190.5 243.48,191.81 246.58,193.07 248.43,194.32 248.88,194.91 249.04,195.53M267.18,195.55 267.34,196.15 267.83,196.77 269.8,198.06 273.43,199.55 282.94,202.67 286.61,204.06 289.27,205.57 289.92,206.26 290.16,207M292.38,207.02 292.74,208.22 293.87,209.47 295.76,210.74 298.46,212.05 301.85,213.38 306.12,214.8 318.9,218.47M218.96,163.43 232.75,166.07 241.86,168.35 245.01,169.43 247.27,170.51 248.6,171.56 248.92,172.06 249.04,172.59M267.18,172.61 267.34,173.21 267.83,173.83 269.8,175.12 273.43,176.61 282.94,179.73 286.61,181.12 289.27,182.63 289.92,183.32 290.16,184.06M292.38,184.08 292.74,185.28 293.87,186.53 295.76,187.8 298.46,189.11 301.85,190.44 306.12,191.86 318.9,195.53M293.71,163.45 295,164.4 296.73,165.37 301.61,167.41 308.38,169.62 318.9,172.59" stroke="#000000" stroke-width="0.8" fill="none" clip-path="url(#cp3)"/>
<path d="M343.46,275.82 346.6,274.34M343.46,252.88 346.6,251.4M343.46,229.94 346.6,228.46M343.46,207 346.6,205.52M343.46,184.06 346.6,182.58M343.46,275.84 346.6,277.32M343.46,252.9 346.6,254.38M343.46,229.96 346.6,231.44M343.46,207.02 346.6,208.5M343.46,184.08 346.6,185.56" stroke="#d83030" stroke-width="0.8" fill="none" clip-path="url(#cp3)"/>
<path d="M318.94,287.3 332.61,281.26 346.6,274.8M318.94,264.36 332.61,258.32 346.6,251.86M318.94,241.42 332.61,235.38 346.6,228.92M318.94,218.48 332.61,212.44 346.6,205.98M318.94,195.54 332.61,189.5 346.6,183.04M318.94,172.6 339.46,163.43M318.94,287.3 339.46,296.47M318.94,264.36 332.61,270.4 346.6,276.86M318.94,241.42 332.61,247.46 346.6,253.92M318.94,218.48 332.61,224.52 346.6,230.98M318.94,195.54 332.61,201.58 346.6,208.04M318.94,172.6 332.61,178.64 346.6,185.1" stroke="#000" stroke-width="0.8" fill="none" clip-path="url(#cp3)"/>
<path d="M102.77,237.34 106.66,238.12M134.4,244.87 142.88,247.34M155.26,251.3 168.32,255.93" stroke="#302070" stroke-width="0.7" fill="none" clip-path="url(#cp2)"/>
<path d="M33.43,387.14 33.55,380.55 33.94,374.17 34.56,368.21 35.38,362.87 36.42,357.99 37.6,353.96 38.95,350.63 40.48,348.06 41.4,347 42.33,346.25 43.22,345.8 44.19,345.59 45.38,345.68 46.52,346.07 47.76,346.69 48.67,347.47 49.86,349.31 50.93,352.32 51.84,356.41 52.62,361.75M52.85,423.4 52.11,428.34 51.27,431.83 50.25,434.21 49.76,434.84 49.13,435.32 48.35,435.5 47.37,435.32 45.71,434.64 44.52,433.92 42.52,431.97 40.56,428.96 38.98,425.51 37.61,421.55 36.39,416.91 35.34,411.62 34.51,405.88 33.9,399.72 33.55,393.54 33.43,387.14M56.36,361.61 57.53,354.31 58.24,351.6 59.03,349.55 59.75,348.35 60.66,347.58 61.63,347.43 62.93,347.93 65.02,349.47 66.28,350.75 67.49,352.58 68.48,354.77 69.42,357.62 70.31,361.31 71.09,365.64 71.8,370.79M72.24,440.65 71.05,447.95 70.39,450.47 69.62,452.53 68.79,453.89 67.88,454.65 66.91,454.83 65.77,454.46 63.48,452.85 62.14,451.65 60.95,450.05 59.98,448.08 58.99,445.25 58.13,441.76 57.33,437.43 56.65,432.48M75.66,379.84 76.45,374.91 77.38,372.08 77.88,371.46 78.44,371.33 78.96,371.63 79.77,372.5 80.55,373.67 81.25,375.1 82.49,378.9 83.62,384.17 84.59,390.89M85.07,445.73 84.25,451.06 83.24,454.93 82.16,457.06 81.57,457.59 80.8,457.76 80.06,457.48 79.02,456.55 78.44,455.74 77.87,454.47 76.86,450.6 75.99,444.88M88.2,408.09 89,403.37 89.51,401.65 90.04,400.58 90.66,400.09 91.21,400.25 91.81,401.04 92.31,402.35 93.28,406.83 94.08,413.38 94.64,421.35 94.89,429.94 94.81,438.53 94.4,446.11 93.68,451.85 93.25,453.8 92.77,455.12 92.31,455.76 91.75,455.81 91.13,455.04 90.57,453.76 89.47,449.51 88.57,443.59M98.53,437.05 98.87,429.28 99.27,426.52 99.75,425 99.99,424.69 100.35,424.67 100.89,425.5 101.45,427.41 101.95,430.15 102.64,437.7 102.72,445.87 102.51,449.46 102.16,452.23 101.68,454.16 101.13,454.96 100.61,454.76 100.16,453.88 99.33,449.98 98.75,444.03 98.53,437.05M107.4,449.51 107.51,447.92 107.85,447 108.02,446.9 108.34,447.09 108.94,448.56 109.32,450.71 109.41,452.9 109.22,454.48 108.81,455.11 108.36,454.76 107.88,453.45 107.52,451.5 107.4,449.51" stroke="#3030cc" stroke-width="0.8" fill="none" clip-path="url(#cp4)"/>
<path d="M52.6,361.55 53.25,368.12 53.72,375.29 54.06,384.28 54.18,392.87 53.88,409.65 53.45,417.03 52.83,423.6M54.79,394.75 54.9,384.95 55.21,376.16 55.7,368.38 56.38,361.41M71.78,370.59 72.55,378.15 73.17,387.12 73.57,396.91 73.73,406.51 73.69,415.71 73.4,425.3 72.92,433.49 72.21,440.85M56.67,432.68 55.88,424.72 55.27,415.14 54.91,404.95 54.79,394.75M74.34,409.57 74.7,392.59 75.12,385.41 75.68,379.65M84.57,390.69 85.22,397.05 85.74,404.23 86.23,419.4 85.97,434.18 85.58,440.56 85.05,445.93M76.02,445.08 75.32,437.92 74.79,429.34 74.46,419.76 74.34,409.57M87.45,423.25 87.65,414.86 88.22,407.9M88.59,443.79 87.75,434.03 87.45,423.25" stroke="#5a5ad8" stroke-width="0.9" stroke-dasharray="1.6,1.1" fill="none" clip-path="url(#cp4)"/>
<path d="M35.84,387.49 36,381.49 36.46,375.92 37.19,370.78 38.19,366.09 39.43,362.08 40.88,358.79 42.41,356.46 44.17,354.85 45.06,354.39 46.02,354.13 47.02,354.1 48.19,354.34 49.66,354.96 50.68,355.59 51.57,356.4 52.42,357.5 53.76,360.18 54.97,363.99 55.97,368.67 56.8,374.41M57.05,415.49 56.3,420.43 55.31,424.5 54.16,427.27 52.91,428.81 52.02,429.25 51.23,429.32 50.26,429.1 48.8,428.45 46.48,426.91 44.31,424.56 42.48,421.7 40.86,418.27 39.39,414.13 38.15,409.5 37.16,404.4 36.45,399.05 36,393.48 35.84,387.49M60.27,381.47 61.2,375.74 62.42,371.73 63.08,370.5 63.9,369.64 64.64,369.35 65.61,369.55 66.9,370.48 67.85,371.5 68.69,372.86 69.48,374.7 70.87,379.91 71.96,386.82M72.3,424.94 71.39,430.46 70.79,432.57 70.17,434.04 69.48,435.02 68.82,435.47 68.03,435.52 66.96,434.99 65.74,433.97 64.74,432.72 63.88,431.14 63.07,429.1 61.6,423.49 60.48,416.38M75.55,410.71 75.69,406.12 76.08,402.15 76.75,398.82 77.56,396.79 78.06,396.17 78.59,395.9 79.17,396.01 79.63,396.39 80.53,397.94 81.38,400.6 82.2,404.71 82.79,409.46 83.14,414.84 83.2,420.03 82.95,424.02 82.41,427.37 81.62,429.63 81.16,430.27 80.66,430.59 80.27,430.6 79.74,430.32 78.88,429.23 77.96,427.24 77.14,424.57 76.47,421.44 75.96,417.88 75.55,410.71M88.45,424.42 88.63,421.65 89.1,420.14 89.45,420.08 89.7,420.39 90.23,422.1 90.59,424.85 90.65,428.03 90.39,430.4 90.14,431.16 89.86,431.43 89.53,431.24 89.34,430.89 88.9,429.37 88.57,427 88.45,424.42M97.93,436.25 98.04,435.28 98.27,434.98 98.57,435.2 98.87,435.92 99.13,438.05 99.02,438.83 98.79,439.12 98.49,438.91 98.19,438.18 97.93,436.25" stroke="#d83030" stroke-width="0.8" fill="none" clip-path="url(#cp4)"/>
<path d="M56.78,374.21 57.68,384.56 58.01,395.54 57.8,406.13 57.02,415.69M59.43,397.63 59.64,389.04 60.29,381.27M71.93,386.62 72.76,395.98 73.13,406.57 72.96,416.57 72.28,425.14M60.5,416.58 59.7,407.42 59.43,397.63" stroke="#e06868" stroke-width="0.9" stroke-dasharray="1.6,1.1" fill="none" clip-path="url(#cp4)"/>
<path d="M30.2,386.95 33.43,387.14 36.89,387.68 40.48,388.54 44.11,389.71M57.71,396.52 64.47,401.22M67.69,403.75 73.9,409.16 80.15,415.27 86.44,422.1 92.81,429.68 99.22,437.97 105.63,446.92 112.08,456.58 118.57,466.95 125.06,477.96 131.59,489.69 138.16,502.13 144.73,515.2 151.34,529 157.96,543.42 164.61,558.56 171.3,574.43M44.11,389.71 44.35,385.2 45.06,381.09 46.19,377.78 46.9,376.45 47.69,375.42 48.58,374.65 49.5,374.22 50.45,374.12 51.44,374.36 52.26,374.83 53.08,375.66 54.58,378.25 55.98,382.31 57,387.23 57.59,392.69 57.69,398.14 57.27,403.05 56.42,406.91 55.84,408.46 55.16,409.73 54.41,410.63 53.62,411.16 52.87,411.33 52.12,411.22 51.27,410.77 50.35,410.04 48.61,407.93 47.04,405.01 45.81,401.66 44.89,397.93 44.31,393.91 44.11,389.71ZM64.47,401.22 64.69,398.16 65.31,396.27 65.73,395.92 66.18,396.04 66.58,396.6 66.96,397.58 67.54,400.77 67.68,404.49 67.33,407.19 67,408.02 66.6,408.38 66.25,408.32 65.85,407.91 65.13,406.25 64.64,403.9 64.47,401.22Z" stroke="#000000" stroke-width="0.8" fill="none" clip-path="url(#cp4)"/>
<path d="M208.73,444.3H211.14M208.73,421.36H211.14M208.73,398.42H211.14M208.73,375.48H211.14M208.73,352.54H211.14M208.73,329.6H211.14M230.09,432.83H234.73M230.09,409.89H234.73M230.09,386.95H234.73M230.09,364.01H234.73M230.09,341.07H234.73M248.43,432.83H249.04M248.43,409.89H249.04M248.43,386.95H249.04M248.43,364.01H249.04M248.43,341.07H249.04M249.64,444.3H250.85M249.64,421.36H250.85M249.64,398.42H250.85M249.64,375.48H250.85M249.64,352.54H250.85M249.64,329.6H250.85M258.51,444.3H261.54M258.51,421.36H261.54M258.51,398.42H261.54M258.51,375.48H261.54M258.51,352.54H261.54M258.51,329.6H261.54M262.75,432.83H263.75M262.75,409.89H263.75M262.75,386.95H263.75M262.75,364.01H263.75M262.75,341.07H263.75M265.97,432.83H270.2M265.97,409.89H270.2M265.97,386.95H270.2M265.97,364.01H270.2M265.97,341.07H270.2M274.44,444.3H278.07M274.44,421.36H278.07M274.44,398.42H278.07M274.44,375.48H278.07M274.44,352.54H278.07M274.44,329.6H278.07M282.7,432.83H284.72M282.7,409.89H284.72M282.7,386.95H284.72M282.7,364.01H284.72M282.7,341.07H284.72" stroke="#5a5ad8" stroke-width="0.7" fill="none" clip-path="url(#cp5)"/>
<path d="M211.14,444.3H219.41M211.14,421.36H219.41M211.14,398.42H219.41M211.14,375.48H219.41M211.14,352.54H219.41M211.14,329.6H219.41M233.01,444.3H233.32M233.01,421.36H233.32M233.01,398.42H233.32M233.01,375.48H233.32M233.01,352.54H233.32M233.01,329.6H233.32M234.73,432.83H248.43M234.73,409.89H248.43M234.73,386.95H248.43M234.73,364.01H248.43M234.73,341.07H248.43M250.85,444.3H258.51M250.85,421.36H258.51M250.85,398.42H258.51M250.85,375.48H258.51M250.85,352.54H258.51M250.85,329.6H258.51M263.75,432.83H265.97M263.75,409.89H265.97M263.75,386.95H265.97M263.75,364.01H265.97M263.75,341.07H265.97M273.23,444.3H274.44M273.23,421.36H274.44M273.23,398.42H274.44M273.23,375.48H274.44M273.23,352.54H274.44M273.23,329.6H274.44" stroke="#e06868" stroke-width="0.7" fill="none" clip-path="url(#cp5)"/>
<path d="M219.41,444.3H233.01M219.41,421.36H233.01M219.41,398.42H233.01M219.41,375.48H233.01M219.41,352.54H233.01M219.41,329.6H233.01" stroke="#333333" stroke-width="0.7" fill="none" clip-path="url(#cp5)"/>
<path d="M285,453.41 285.6,451.55 286.61,449.5 288.02,447.27 290.16,444.34M270.57,453.42 273.27,447.26 273.67,445.85 273.83,444.32M278.07,444.28 278.19,443.12 278.59,441.8 281.98,435.8 282.54,434.2 282.7,432.85M284.72,432.83 285.04,430.31 285.97,427.8 287.54,425.05 290.16,421.4M261.54,444.27 261.66,441.95 262.54,435.9 262.75,432.86M270.2,432.81 270.61,430.35 273.27,424.32 273.67,422.91 273.83,421.38M278.07,421.34 278.19,420.18 278.59,418.86 281.98,412.86 282.54,411.26 282.7,409.91M284.72,409.89 285.04,407.37 285.97,404.86 287.54,402.11 290.16,398.46M206.51,453.45 207.52,450.84 208.2,448.52 208.6,446.31 208.73,444.33M261.54,421.33 261.66,419.01 262.54,412.96 262.75,409.92M270.2,409.87 270.61,407.41 273.27,401.38 273.67,399.97 273.83,398.44M278.07,398.4 278.19,397.24 278.59,395.92 281.98,389.92 282.54,388.32 282.7,386.97M284.72,386.95 285.04,384.43 285.97,381.92 287.54,379.17 290.16,375.52M205.5,432.83 207.07,429.11 208,426.36 208.52,423.96 208.73,421.39M261.54,398.39 261.66,396.07 262.54,390.02 262.75,386.98M270.2,386.93 270.61,384.47 273.27,378.44 273.67,377.03 273.83,375.5M278.07,375.46 278.19,374.3 278.59,372.98 281.98,366.98 282.54,365.38 282.7,364.03M284.72,364.01 285.04,361.49 285.97,358.98 287.54,356.23 290.16,352.58M205.5,409.89 207.07,406.17 208,403.42 208.52,401.02 208.73,398.45M261.54,375.45 261.66,373.13 262.54,367.08 262.75,364.04M270.2,363.99 270.61,361.53 273.27,355.5 273.67,354.09 273.83,352.56M278.07,352.52 278.19,351.36 278.59,350.04 281.98,344.04 282.54,342.44 282.7,341.09M284.72,341.07 285.04,338.55 285.97,336.04 287.54,333.29 290.16,329.64M205.5,386.95 207.07,383.23 208,380.48 208.52,378.08 208.73,375.51M261.54,352.51 261.74,349.47 262.63,343.42 262.75,341.1M270.2,341.05 270.61,338.59 273.27,332.56 273.67,331.15 273.83,329.62M278.07,329.58 278.23,328.23 278.79,326.63 281.49,322.04 282.26,320.43M205.5,364.01 207.07,360.29 208,357.54 208.52,355.14 208.73,352.57M261.54,329.57 261.74,326.53 262.63,320.48M205.5,341.07 207.07,337.35 208,334.6 208.52,332.2 208.73,329.63M205.5,432.83 207.07,436.55 208,439.3 208.52,441.7 208.73,444.27M205.5,409.89 207.07,413.61 208,416.36 208.52,418.76 208.73,421.33M261.54,444.33 261.74,447.37 262.63,453.42M205.5,386.95 207.07,390.67 208,393.42 208.52,395.82 208.73,398.39M261.54,421.39 261.66,423.71 262.54,429.76 262.75,432.8M270.2,432.85 270.61,435.31 273.27,441.34 273.67,442.75 273.83,444.28M278.07,444.32 278.23,445.67 278.79,447.27 281.49,451.86 282.26,453.47M205.5,364.01 207.07,367.73 208,370.48 208.52,372.88 208.73,375.45M261.54,398.45 261.74,401.49 262.63,407.54 262.75,409.86M270.2,409.91 270.61,412.37 273.27,418.4 273.67,419.81 273.83,421.34M278.07,421.38 278.19,422.54 278.59,423.86 281.98,429.86 282.54,431.46 282.7,432.81M284.72,432.83 285.04,435.35 285.97,437.86 287.54,440.61 290.16,444.26M205.5,341.07 207.07,344.79 208,347.54 208.52,349.94 208.73,352.51M261.54,375.51 261.66,377.83 262.54,383.88 262.75,386.92M270.2,386.97 270.61,389.43 273.27,395.46 273.67,396.87 273.83,398.4M278.07,398.44 278.19,399.6 278.59,400.92 281.98,406.92 282.54,408.52 282.7,409.87M284.72,409.89 285.04,412.41 285.97,414.92 287.54,417.67 290.16,421.32M206.51,320.45 207.52,323.06 208.2,325.38 208.6,327.59 208.73,329.57M261.54,352.57 261.74,355.61 262.63,361.66 262.75,363.98M270.2,364.03 270.61,366.49 273.27,372.52 273.67,373.93 273.83,375.46M278.07,375.5 278.19,376.66 278.59,377.98 281.98,383.98 282.54,385.58 282.7,386.93M284.72,386.95 285.04,389.47 285.97,391.98 287.54,394.73 290.16,398.38M261.54,329.63 261.74,332.67 262.63,338.72 262.75,341.04M270.2,341.09 270.61,343.55 273.27,349.58 273.67,350.99 273.83,352.52M278.07,352.56 278.19,353.72 278.59,355.04 281.98,361.04 282.54,362.64 282.7,363.99M284.72,364.01 285.04,366.53 285.97,369.04 287.54,371.79 290.16,375.44M270.57,320.48 273.27,326.64 273.67,328.05 273.83,329.58M278.07,329.62 278.19,330.78 278.59,332.1 281.98,338.1 282.54,339.7 282.7,341.05M284.72,341.07 285.04,343.59 285.97,346.1 287.54,348.85 290.16,352.5M285,320.49 285.6,322.35 286.61,324.4 288.02,326.63 290.16,329.56" stroke="#3030cc" stroke-width="0.8" fill="none" clip-path="url(#cp5)"/>
<path d="M249.12,453.04 249.64,444.34M229.49,444.26 230.09,432.87M249.04,432.79 249.64,421.4M229.49,421.32 230.09,409.93M249.04,409.85 249.64,398.46M229.49,398.38 230.09,386.99M249.04,386.91 249.64,375.52M229.49,375.44 230.09,364.05M249.04,363.97 249.64,352.58M229.49,352.5 230.09,341.11M249.04,341.03 249.64,329.64M229.49,329.56 230.01,320.86M229.49,444.34 230.01,453.04M229.49,421.4 230.09,432.79M249.04,432.87 249.64,444.26M229.49,398.46 230.09,409.85M249.04,409.93 249.64,421.32M229.49,375.52 230.09,386.91M249.04,386.99 249.64,398.38M229.49,352.58 230.09,363.97M249.04,364.05 249.64,375.44M229.49,329.64 230.09,341.03M249.04,341.11 249.64,352.5M249.12,320.86 249.64,329.56" stroke="#5a5ad8" stroke-width="0.9" stroke-dasharray="2.2,1.3" fill="none" clip-path="url(#cp5)"/>
<path d="M266.7,453.42 267.91,451.81 272.1,447.26 272.95,445.75 273.23,444.31M274.44,444.28 274.76,441.89 275.81,439.25 277.54,436.48 280.4,432.83M248.68,453.42 250.49,447.2 250.85,444.32M258.51,444.29 258.67,443.01 259.12,441.77 259.92,440.32 262.95,435.77 263.55,434.27 263.75,432.84M265.97,432.82 266.17,431.61 266.82,430.28 267.95,428.82 272.1,424.32 272.95,422.81 273.23,421.37M274.44,421.34 274.76,418.95 275.81,416.31 277.54,413.54 280.4,409.89M207.27,453.44 209.05,450.81 210.22,448.55 210.9,446.45 211.14,444.32M233.32,444.27 233.48,441.78 234.53,435.66 234.73,432.86M248.43,432.81 248.8,429.93 250.57,423.91 250.85,421.38M258.51,421.35 258.67,420.07 259.12,418.83 259.92,417.38 262.95,412.83 263.55,411.33 263.75,409.9M265.97,409.88 266.17,408.67 266.82,407.34 267.95,405.88 272.1,401.38 272.95,399.87 273.23,398.43M274.44,398.4 274.76,396.01 275.81,393.37 277.54,390.6 280.4,386.95M205.5,432.83 208.24,429.13 209.85,426.4 210.82,423.84 211.14,421.38M233.32,421.33 233.48,418.84 234.53,412.72 234.73,409.92M248.43,409.87 248.8,406.99 250.57,400.97 250.85,398.44M258.51,398.41 258.67,397.13 259.12,395.89 259.92,394.44 262.95,389.89 263.55,388.39 263.75,386.96M265.97,386.94 266.17,385.73 266.82,384.4 267.95,382.94 272.1,378.44 272.95,376.93 273.23,375.49M274.44,375.46 274.76,373.07 275.81,370.43 277.54,367.66 280.4,364.01M205.5,409.89 208.24,406.19 209.85,403.46 210.82,400.9 211.14,398.44M233.32,398.39 233.48,395.9 234.53,389.78 234.73,386.98M248.43,386.93 248.8,384.05 250.57,378.03 250.85,375.5M258.51,375.47 258.67,374.19 259.12,372.95 259.92,371.5 262.95,366.95 263.55,365.45 263.75,364.02M265.97,364 266.17,362.79 266.82,361.46 267.95,360 272.1,355.5 272.95,353.99 273.23,352.55M274.44,352.52 274.76,350.13 275.81,347.49 277.54,344.72 280.4,341.07M205.5,386.95 208.24,383.25 209.85,380.52 210.82,377.96 211.14,375.5M233.32,375.45 233.48,372.96 234.53,366.84 234.73,364.04M248.43,363.99 248.72,361.46 250.49,355.44 250.85,352.56M258.51,352.53 258.67,351.25 259.12,350.01 259.92,348.56 262.95,344.01 263.55,342.51 263.75,341.08M265.97,341.06 266.17,339.85 266.82,338.52 267.95,337.06 272.1,332.56 272.95,331.05 273.23,329.61M274.44,329.58 274.68,327.51 275.4,325.38 276.65,323.09 278.55,320.44M205.5,364.01 208.24,360.31 209.85,357.58 210.82,355.02 211.14,352.56M233.32,352.51 233.48,350.02 234.53,343.9 234.73,341.1M248.43,341.05 248.72,338.52 250.49,332.5 250.85,329.62M258.51,329.59 258.71,328.16 259.32,326.66 262.38,322.05 263.23,320.48M205.5,341.07 208.24,337.37 209.85,334.64 210.82,332.08 211.14,329.62M233.32,329.57 233.52,326.77 234.57,320.65M205.5,432.83 208.24,436.53 209.85,439.26 210.82,441.82 211.14,444.28M233.32,444.33 233.52,447.13 234.57,453.25M205.5,409.89 208.24,413.59 209.85,416.32 210.82,418.88 211.14,421.34M233.32,421.39 233.48,423.88 234.53,430 234.73,432.8M248.43,432.85 248.72,435.38 250.49,441.4 250.85,444.28M258.51,444.31 258.71,445.74 259.32,447.24 262.38,451.85 263.23,453.42M205.5,386.95 208.24,390.65 209.85,393.38 210.82,395.94 211.14,398.4M233.32,398.45 233.48,400.94 234.53,407.06 234.73,409.86M248.43,409.91 248.8,412.79 250.57,418.81 250.85,421.34M258.51,421.37 258.67,422.65 259.12,423.89 259.92,425.34 262.95,429.89 263.55,431.39 263.75,432.82M265.97,432.84 266.17,434.05 266.82,435.38 267.95,436.84 272.1,441.34 272.95,442.85 273.23,444.29M274.44,444.32 274.68,446.39 275.4,448.52 276.65,450.81 278.55,453.46M205.5,364.01 208.24,367.71 209.85,370.44 210.82,373 211.14,375.46M233.32,375.51 233.48,378 234.53,384.12 234.73,386.92M248.43,386.97 248.72,389.5 250.49,395.52 250.85,398.4M258.51,398.43 258.67,399.71 259.12,400.95 259.92,402.4 262.95,406.95 263.55,408.45 263.75,409.88M265.97,409.9 266.17,411.11 266.82,412.44 267.95,413.9 272.1,418.4 272.95,419.91 273.23,421.35M274.44,421.38 274.76,423.77 275.81,426.41 277.54,429.18 280.4,432.83M205.5,341.07 208.24,344.77 209.85,347.5 210.82,350.06 211.14,352.52M233.32,352.57 233.48,355.06 234.53,361.18 234.73,363.98M248.43,364.03 248.72,366.56 250.49,372.58 250.85,375.46M258.51,375.49 258.67,376.77 259.12,378.01 259.92,379.46 262.95,384.01 263.55,385.51 263.75,386.94M265.97,386.96 266.17,388.17 266.82,389.5 267.95,390.96 272.1,395.46 272.95,396.97 273.23,398.41M274.44,398.44 274.76,400.83 275.81,403.47 277.54,406.24 280.4,409.89M207.27,320.46 209.05,323.09 210.22,325.35 210.9,327.45 211.14,329.58M233.32,329.63 233.48,332.12 234.53,338.24 234.73,341.04M248.43,341.09 248.72,343.62 250.49,349.64 250.85,352.52M258.51,352.55 258.71,353.98 259.32,355.48 262.34,360.03 263.15,361.48 263.59,362.72 263.75,364M265.97,364.02 266.17,365.23 266.82,366.56 267.95,368.02 272.1,372.52 272.95,374.03 273.23,375.47M274.44,375.5 274.76,377.89 275.81,380.53 277.54,383.3 280.4,386.95M248.68,320.48 250.49,326.7 250.85,329.58M258.51,329.61 258.67,330.89 259.12,332.13 259.92,333.58 262.95,338.13 263.55,339.63 263.75,341.06M265.97,341.08 266.17,342.29 266.82,343.62 267.95,345.08 272.1,349.58 272.95,351.09 273.23,352.53M274.44,352.56 274.76,354.95 275.81,357.59 277.54,360.36 280.4,364.01M266.7,320.48 267.91,322.09 272.1,326.64 272.95,328.15 273.23,329.59M274.44,329.62 274.76,332.01 275.81,334.65 277.54,337.42 280.4,341.07" stroke="#d83030" stroke-width="0.8" fill="none" clip-path="url(#cp5)"/>
<path d="M209.81,453.47 214.21,450.83 217.11,448.56 218.12,447.47 218.84,446.39 219.25,445.41 219.41,444.31M233.01,444.28 233.12,443.12 233.44,441.87 234.77,439.28 236.99,436.53 240.69,432.86M205.5,432.83 212.23,429.14 216.22,426.4 217.63,425.09 218.6,423.86 219.21,422.6 219.41,421.37M233.01,421.34 233.12,420.18 233.44,418.93 234.77,416.34 236.99,413.59 240.69,409.92M205.5,409.89 212.23,406.2 216.22,403.46 217.63,402.15 218.6,400.92 219.21,399.66 219.41,398.43M233.01,398.4 233.12,397.24 233.44,395.99 234.77,393.4 236.99,390.65 240.69,386.98M205.5,386.95 212.23,383.26 216.22,380.52 217.63,379.21 218.6,377.98 219.21,376.72 219.41,375.49M233.01,375.46 233.12,374.3 233.44,373.05 234.77,370.46 236.99,367.71 240.69,364.04M205.5,364.01 212.23,360.32 216.22,357.58 217.63,356.27 218.6,355.04 219.21,353.78 219.41,352.55M233.01,352.52 233.12,351.36 233.44,350.11 234.77,347.52 236.99,344.77 240.69,341.1M205.5,341.07 212.23,337.38 216.22,334.64 217.63,333.33 218.6,332.1 219.21,330.84 219.41,329.61M233.01,329.58 233.32,327.55 234.28,325.35 235.9,323.07 238.32,320.45M205.5,432.83 212.23,436.52 216.22,439.26 217.63,440.57 218.6,441.8 219.21,443.06 219.41,444.29M233.01,444.32 233.32,446.35 234.28,448.55 235.9,450.83 238.32,453.45M205.5,409.89 212.23,413.58 216.22,416.32 217.63,417.63 218.6,418.86 219.21,420.12 219.41,421.35M233.01,421.38 233.12,422.54 233.44,423.79 234.77,426.38 236.99,429.13 240.69,432.8M205.5,386.95 212.23,390.64 216.22,393.38 217.63,394.69 218.6,395.92 219.21,397.18 219.41,398.41M233.01,398.44 233.12,399.6 233.44,400.85 234.77,403.44 236.99,406.19 240.69,409.86M205.5,364.01 212.23,367.7 216.22,370.44 217.63,371.75 218.6,372.98 219.21,374.24 219.41,375.47M233.01,375.5 233.12,376.66 233.44,377.91 234.77,380.5 236.99,383.25 240.69,386.92M205.5,341.07 212.23,344.76 216.22,347.5 217.63,348.81 218.6,350.04 219.21,351.3 219.41,352.53M233.01,352.56 233.12,353.72 233.44,354.97 234.77,357.56 236.99,360.31 240.69,363.98M209.81,320.43 214.21,323.07 217.11,325.34 218.12,326.43 218.84,327.51 219.25,328.49 219.41,329.59M233.01,329.62 233.12,330.78 233.44,332.03 234.77,334.62 236.99,337.37 240.69,341.04" stroke="#000000" stroke-width="0.8" fill="none" clip-path="url(#cp5)"/>
<path d="M343.5,453.47 346.6,448.21M329.59,453.46 338.01,439.7 346.6,425.27M314.95,453.44 330.51,429.03 346.6,402.33M299.31,453.46 310.6,437.06 322.29,419.17 334.3,399.93 346.6,379.39M282.26,453.43 289.56,443.93 297.09,433.63 304.92,422.49 312.94,410.61 321.12,398.06 329.47,384.84 337.97,370.95 346.6,356.45M280.44,432.78 287.9,423.18 295.64,412.71 303.67,401.36 311.89,389.25 320.32,376.38 328.94,362.74 337.69,348.47 346.6,333.51M280.44,409.84 287.26,401.09 294.35,391.55 301.65,381.32 309.15,370.4 316.85,358.79 324.67,346.61 340.75,320.44M280.44,386.9 291.21,372.89 302.58,357.05 314.43,339.54 326.68,320.47M280.44,363.96 287.9,354.36 295.64,343.89 303.67,332.54 311.89,320.43M280.44,341.02 288.06,331.21 296.01,320.45M280.44,432.88 288.06,442.69 296.01,453.45M280.44,409.94 287.9,419.54 295.64,430.01 303.67,441.36 311.89,453.47M280.44,387 291.21,401.01 302.58,416.85 314.43,434.36 326.68,453.43M280.44,364.06 287.26,372.81 294.35,382.35 301.65,392.58 309.15,403.5 316.85,415.11 324.67,427.29 340.75,453.46M280.44,341.12 287.9,350.72 295.64,361.19 303.67,372.54 311.89,384.65 320.32,397.52 328.94,411.16 337.69,425.43 346.6,440.39M282.26,320.47 289.56,329.97 297.09,340.27 304.92,351.41 312.94,363.29 321.12,375.84 329.47,389.06 337.97,402.95 346.6,417.45M299.31,320.44 310.6,336.84 322.29,354.73 334.3,373.97 346.6,394.51M314.95,320.46 330.51,344.87 346.6,371.57M329.59,320.44 338.01,334.2 346.6,348.63M343.5,320.43 346.6,325.69" stroke="#d83030" stroke-width="1.0" fill="none" clip-path="url(#cp5)"/>
<path d="M343.98,453.42 346.6,448.97M330.11,453.42 346.6,426.03M315.52,453.44 330.88,429.24 346.6,403.09M300.04,453.45 311.37,436.81 322.9,419.05 334.63,400.19 346.6,380.15M290.2,444.29 303.79,425.1 317.73,404.15 332.01,381.53 346.6,357.21M290.2,421.35 303.79,402.16 317.73,381.21 332.01,358.59 346.6,334.27M290.2,398.41 302.54,381.03 315.15,362.24 328.06,342.03 341.2,320.47M290.2,375.47 299.19,362.9 308.38,349.51 317.73,335.33 327.21,320.44M290.2,352.53 301.21,337.07 312.45,320.46M290.2,329.59 296.77,320.46M290.2,444.31 296.77,453.44M290.2,421.37 301.21,436.83 312.45,453.44M290.2,398.43 299.19,411 308.38,424.39 317.73,438.57 327.21,453.46M290.2,375.49 302.54,392.87 315.15,411.66 328.06,431.87 341.2,453.43M290.2,352.55 303.79,371.74 317.73,392.69 332.01,415.31 346.6,439.63M290.2,329.61 303.79,348.8 317.73,369.75 332.01,392.37 346.6,416.69M300.04,320.45 311.37,337.09 322.9,354.85 334.63,373.71 346.6,393.75M315.52,320.46 330.88,344.66 346.6,370.81M330.11,320.48 346.6,347.87M343.98,320.48 346.6,324.93" stroke="#3030cc" stroke-width="1.0" fill="none" clip-path="url(#cp5)"/>
<path d="M343.74,453.43 346.6,448.57M329.83,453.47 346.6,425.63M315.24,453.47 330.72,429.1 346.6,402.69M299.75,453.46 311.12,436.77 322.73,418.9 334.55,399.92 346.6,379.75M283.06,453.45 290.6,443.33 298.26,432.64 306.04,421.39 313.95,409.56 321.97,397.16 330.07,384.26 346.6,356.81M264.64,453.43 274.11,441.98 283.83,429.5 293.79,416 303.99,401.46 314.39,385.95 324.95,369.52 335.67,352.18 346.6,333.87M243.15,453.47 248.52,448.17 254.04,442.39 265.37,429.64 277.14,415.24 289.27,399.27 301.77,381.74 314.55,362.76 327.61,342.34 340.96,320.47M240.73,432.83 250.37,423.32 260.41,412.42 270.81,400.18 281.49,386.69 292.5,371.91 303.75,355.93 315.24,338.77 326.97,320.43M240.73,409.89 248.8,402 257.18,393.09 265.81,383.24 274.68,372.46 283.75,360.79 293.06,348.19 302.54,334.75 312.21,320.43M240.73,386.95 247.14,380.73 253.72,373.91 260.49,366.45 267.42,358.39 274.48,349.77 281.69,340.55 289.03,330.78 296.49,320.45M240.73,364.01 249.93,354.96 259.48,344.65 269.36,333.12 279.52,320.43M240.73,341.07 250.45,331.48 260.61,320.44M240.73,432.83 250.45,442.42 260.61,453.46M240.73,409.89 249.93,418.94 259.48,429.25 269.36,440.78 279.52,453.47M240.73,386.95 247.14,393.17 253.72,399.99 260.49,407.45 267.42,415.51 274.48,424.13 281.69,433.35 289.03,443.12 296.49,453.45M240.73,364.01 248.8,371.9 257.18,380.81 265.81,390.66 274.68,401.44 283.75,413.11 293.06,425.71 302.54,439.15 312.21,453.47M240.73,341.07 250.37,350.58 260.41,361.48 270.81,373.72 281.49,387.21 292.5,401.99 303.75,417.97 315.24,435.13 326.97,453.47M243.15,320.43 248.52,325.73 254.04,331.51 265.37,344.26 277.14,358.66 289.27,374.63 301.77,392.16 314.55,411.14 327.61,431.56 340.96,453.43M264.64,320.47 274.11,331.92 283.83,344.4 293.79,357.9 303.99,372.44 314.39,387.95 324.95,404.38 335.67,421.72 346.6,440.03M283.06,320.45 290.6,330.57 298.26,341.26 306.04,352.51 313.95,364.34 321.97,376.74 330.07,389.64 346.6,417.09M299.75,320.44 311.12,337.13 322.73,355 334.55,373.98 346.6,394.15M315.24,320.43 330.72,344.8 346.6,371.21M329.83,320.43 346.6,348.27M343.74,320.47 346.6,325.33" stroke="#241040" stroke-width="0.8" fill="none" clip-path="url(#cp5)"/>
<path d="M83.26,419.02 88.36,424.77M90.77,427.64 97.86,436.62M99.14,438.32 106.8,449.08" stroke="#a01818" stroke-width="0.75" fill="none" clip-path="url(#cp4)"/>
<rect x="30.2" y="12.8" width="141.1" height="114.7" fill="none" stroke="#6e6e6e" stroke-width="1"/>
<path d="M50.36,127.5v-1.6M50.36,12.8v1.6M70.51,127.5v-1.6M70.51,12.8v1.6M90.67,127.5v-1.6M90.67,12.8v1.6M110.83,127.5v-1.6M110.83,12.8v1.6M130.99,127.5v-1.6M130.99,12.8v1.6M151.14,127.5v-1.6M151.14,12.8v1.6M30.2,108.38h1.6M171.3,108.38h-1.6M30.2,89.27h1.6M171.3,89.27h-1.6M30.2,70.15h1.6M171.3,70.15h-1.6M30.2,51.03h1.6M171.3,51.03h-1.6M30.2,31.92h1.6M171.3,31.92h-1.6" stroke="#6e6e6e" stroke-width="0.9" fill="none"/>
<text x="30.2" y="136.1" class="t" text-anchor="middle">0</text>
<text x="50.36" y="136.1" class="t" text-anchor="middle">10</text>
<text x="70.51" y="136.1" class="t" text-anchor="middle">20</text>
<text x="90.67" y="136.1" class="t" text-anchor="middle">30</text>
<text x="110.83" y="136.1" class="t" text-anchor="middle">40</text>
<text x="130.99" y="136.1" class="t" text-anchor="middle">50</text>
<text x="151.14" y="136.1" class="t" text-anchor="middle">60</text>
<text x="171.3" y="136.1" class="t" text-anchor="middle">70</text>
<text x="27.6" y="130.1" class="t" text-anchor="end">−1.5</text>
<text x="27.6" y="110.98" class="t" text-anchor="end">−1.0</text>
<text x="27.6" y="91.87" class="t" text-anchor="end">−0.5</text>
<text x="27.6" y="72.75" class="t" text-anchor="end">0</text>
<text x="27.6" y="53.63" class="t" text-anchor="end">0.5</text>
<text x="27.6" y="34.52" class="t" text-anchor="end">1.0</text>
<text x="27.6" y="15.4" class="t" text-anchor="end">1.5</text>
<text x="97.35" y="146.1" class="k">k</text>
<text x="0.8" y="7.3" class="lab">(<tspan font-style="italic">a</tspan>)</text>
<text transform="translate(8.2,69.15) rotate(-90)" class="al" text-anchor="middle">α<tspan class="sub" dy="1.8">real</tspan></text>
<rect x="205.5" y="12.8" width="141.1" height="114.7" fill="none" stroke="#6e6e6e" stroke-width="1"/>
<path d="M225.66,127.5v-1.6M225.66,12.8v1.6M245.81,127.5v-1.6M245.81,12.8v1.6M265.97,127.5v-1.6M265.97,12.8v1.6M286.13,127.5v-1.6M286.13,12.8v1.6M306.29,127.5v-1.6M306.29,12.8v1.6M326.44,127.5v-1.6M326.44,12.8v1.6M205.5,116.03h1.6M346.6,116.03h-1.6M205.5,104.56h1.6M346.6,104.56h-1.6M205.5,93.09h1.6M346.6,93.09h-1.6M205.5,81.62h1.6M346.6,81.62h-1.6M205.5,70.15h1.6M346.6,70.15h-1.6M205.5,58.68h1.6M346.6,58.68h-1.6M205.5,47.21h1.6M346.6,47.21h-1.6M205.5,35.74h1.6M346.6,35.74h-1.6M205.5,24.27h1.6M346.6,24.27h-1.6" stroke="#6e6e6e" stroke-width="0.9" fill="none"/>
<text x="205.5" y="136.1" class="t" text-anchor="middle">0</text>
<text x="225.66" y="136.1" class="t" text-anchor="middle">10</text>
<text x="245.81" y="136.1" class="t" text-anchor="middle">20</text>
<text x="265.97" y="136.1" class="t" text-anchor="middle">30</text>
<text x="286.13" y="136.1" class="t" text-anchor="middle">40</text>
<text x="306.29" y="136.1" class="t" text-anchor="middle">50</text>
<text x="326.44" y="136.1" class="t" text-anchor="middle">60</text>
<text x="346.6" y="136.1" class="t" text-anchor="middle">70</text>
<text x="202.5" y="130.1" class="t" text-anchor="end">−5</text>
<text x="202.5" y="118.63" class="t" text-anchor="end">−4</text>
<text x="202.5" y="107.16" class="t" text-anchor="end">−3</text>
<text x="202.5" y="95.69" class="t" text-anchor="end">−2</text>
<text x="202.5" y="84.22" class="t" text-anchor="end">−1</text>
<text x="202.5" y="72.75" class="t" text-anchor="end">0</text>
<text x="202.5" y="61.28" class="t" text-anchor="end">1</text>
<text x="202.5" y="49.81" class="t" text-anchor="end">2</text>
<text x="202.5" y="38.34" class="t" text-anchor="end">3</text>
<text x="202.5" y="26.87" class="t" text-anchor="end">4</text>
<text x="202.5" y="15.4" class="t" text-anchor="end">5</text>
<text x="274.85" y="146.1" class="k">k</text>
<text x="181.5" y="7.3" class="lab">(<tspan font-style="italic">b</tspan>)</text>
<text transform="translate(187.9,69.15) rotate(-90)" class="al" text-anchor="middle">α<tspan class="sub" dy="1.8">imag</tspan></text>
<rect x="30.2" y="172.6" width="141.1" height="114.7" fill="none" stroke="#6e6e6e" stroke-width="1"/>
<path d="M50.36,287.3v-1.6M50.36,172.6v1.6M70.51,287.3v-1.6M70.51,172.6v1.6M90.67,287.3v-1.6M90.67,172.6v1.6M110.83,287.3v-1.6M110.83,172.6v1.6M130.99,287.3v-1.6M130.99,172.6v1.6M151.14,287.3v-1.6M151.14,172.6v1.6M30.2,268.18h1.6M171.3,268.18h-1.6M30.2,249.07h1.6M171.3,249.07h-1.6M30.2,229.95h1.6M171.3,229.95h-1.6M30.2,210.83h1.6M171.3,210.83h-1.6M30.2,191.72h1.6M171.3,191.72h-1.6" stroke="#6e6e6e" stroke-width="0.9" fill="none"/>
<text x="30.2" y="295.9" class="t" text-anchor="middle">0</text>
<text x="50.36" y="295.9" class="t" text-anchor="middle">10</text>
<text x="70.51" y="295.9" class="t" text-anchor="middle">20</text>
<text x="90.67" y="295.9" class="t" text-anchor="middle">30</text>
<text x="110.83" y="295.9" class="t" text-anchor="middle">40</text>
<text x="130.99" y="295.9" class="t" text-anchor="middle">50</text>
<text x="151.14" y="295.9" class="t" text-anchor="middle">60</text>
<text x="171.3" y="295.9" class="t" text-anchor="middle">70</text>
<text x="27.6" y="289.9" class="t" text-anchor="end">−1.5</text>
<text x="27.6" y="270.78" class="t" text-anchor="end">−1.0</text>
<text x="27.6" y="251.67" class="t" text-anchor="end">−0.5</text>
<text x="27.6" y="232.55" class="t" text-anchor="end">0</text>
<text x="27.6" y="213.43" class="t" text-anchor="end">0.5</text>
<text x="27.6" y="194.32" class="t" text-anchor="end">1.0</text>
<text x="27.6" y="175.2" class="t" text-anchor="end">1.5</text>
<text x="97.35" y="305.9" class="k">k</text>
<text x="1.5" y="166.8" class="lab">(<tspan font-style="italic">c</tspan>)</text>
<text transform="translate(8.2,228.95) rotate(-90)" class="al" text-anchor="middle">α<tspan class="sub" dy="1.8">real</tspan></text>
<rect x="205.5" y="172.6" width="141.1" height="114.7" fill="none" stroke="#6e6e6e" stroke-width="1"/>
<path d="M225.66,287.3v-1.6M225.66,172.6v1.6M245.81,287.3v-1.6M245.81,172.6v1.6M265.97,287.3v-1.6M265.97,172.6v1.6M286.13,287.3v-1.6M286.13,172.6v1.6M306.29,287.3v-1.6M306.29,172.6v1.6M326.44,287.3v-1.6M326.44,172.6v1.6M205.5,275.83h1.6M346.6,275.83h-1.6M205.5,264.36h1.6M346.6,264.36h-1.6M205.5,252.89h1.6M346.6,252.89h-1.6M205.5,241.42h1.6M346.6,241.42h-1.6M205.5,229.95h1.6M346.6,229.95h-1.6M205.5,218.48h1.6M346.6,218.48h-1.6M205.5,207.01h1.6M346.6,207.01h-1.6M205.5,195.54h1.6M346.6,195.54h-1.6M205.5,184.07h1.6M346.6,184.07h-1.6" stroke="#6e6e6e" stroke-width="0.9" fill="none"/>
<text x="205.5" y="295.9" class="t" text-anchor="middle">0</text>
<text x="225.66" y="295.9" class="t" text-anchor="middle">10</text>
<text x="245.81" y="295.9" class="t" text-anchor="middle">20</text>
<text x="265.97" y="295.9" class="t" text-anchor="middle">30</text>
<text x="286.13" y="295.9" class="t" text-anchor="middle">40</text>
<text x="306.29" y="295.9" class="t" text-anchor="middle">50</text>
<text x="326.44" y="295.9" class="t" text-anchor="middle">60</text>
<text x="346.6" y="295.9" class="t" text-anchor="middle">70</text>
<text x="202.5" y="289.9" class="t" text-anchor="end">−5</text>
<text x="202.5" y="278.43" class="t" text-anchor="end">−4</text>
<text x="202.5" y="266.96" class="t" text-anchor="end">−3</text>
<text x="202.5" y="255.49" class="t" text-anchor="end">−2</text>
<text x="202.5" y="244.02" class="t" text-anchor="end">−1</text>
<text x="202.5" y="232.55" class="t" text-anchor="end">0</text>
<text x="202.5" y="221.08" class="t" text-anchor="end">1</text>
<text x="202.5" y="209.61" class="t" text-anchor="end">2</text>
<text x="202.5" y="198.14" class="t" text-anchor="end">3</text>
<text x="202.5" y="186.67" class="t" text-anchor="end">4</text>
<text x="202.5" y="175.2" class="t" text-anchor="end">5</text>
<text x="274.85" y="305.9" class="k">k</text>
<text x="181.5" y="167" class="lab">(<tspan font-style="italic">d</tspan>)</text>
<text transform="translate(187.9,228.95) rotate(-90)" class="al" text-anchor="middle">α<tspan class="sub" dy="1.8">imag</tspan></text>
<rect x="30.2" y="329.6" width="141.1" height="114.7" fill="none" stroke="#6e6e6e" stroke-width="1"/>
<path d="M50.36,444.3v-1.6M50.36,329.6v1.6M70.51,444.3v-1.6M70.51,329.6v1.6M90.67,444.3v-1.6M90.67,329.6v1.6M110.83,444.3v-1.6M110.83,329.6v1.6M130.99,444.3v-1.6M130.99,329.6v1.6M151.14,444.3v-1.6M151.14,329.6v1.6M30.2,425.18h1.6M171.3,425.18h-1.6M30.2,406.07h1.6M171.3,406.07h-1.6M30.2,386.95h1.6M171.3,386.95h-1.6M30.2,367.83h1.6M171.3,367.83h-1.6M30.2,348.72h1.6M171.3,348.72h-1.6" stroke="#6e6e6e" stroke-width="0.9" fill="none"/>
<text x="30.2" y="452.9" class="t" text-anchor="middle">0</text>
<text x="50.36" y="452.9" class="t" text-anchor="middle">10</text>
<text x="70.51" y="452.9" class="t" text-anchor="middle">20</text>
<text x="90.67" y="452.9" class="t" text-anchor="middle">30</text>
<text x="110.83" y="452.9" class="t" text-anchor="middle">40</text>
<text x="130.99" y="452.9" class="t" text-anchor="middle">50</text>
<text x="151.14" y="452.9" class="t" text-anchor="middle">60</text>
<text x="171.3" y="452.9" class="t" text-anchor="middle">70</text>
<text x="27.6" y="446.9" class="t" text-anchor="end">−1.5</text>
<text x="27.6" y="427.78" class="t" text-anchor="end">−1.0</text>
<text x="27.6" y="408.67" class="t" text-anchor="end">−0.5</text>
<text x="27.6" y="389.55" class="t" text-anchor="end">0</text>
<text x="27.6" y="370.43" class="t" text-anchor="end">0.5</text>
<text x="27.6" y="351.32" class="t" text-anchor="end">1.0</text>
<text x="27.6" y="332.2" class="t" text-anchor="end">1.5</text>
<text x="97.35" y="462.9" class="k">k</text>
<text x="4.6" y="323.9" class="lab">(<tspan font-style="italic">e</tspan>)</text>
<text transform="translate(8.2,385.95) rotate(-90)" class="al" text-anchor="middle">α<tspan class="sub" dy="1.8">real</tspan></text>
<rect x="205.5" y="329.6" width="141.1" height="114.7" fill="none" stroke="#6e6e6e" stroke-width="1"/>
<path d="M225.66,444.3v-1.6M225.66,329.6v1.6M245.81,444.3v-1.6M245.81,329.6v1.6M265.97,444.3v-1.6M265.97,329.6v1.6M286.13,444.3v-1.6M286.13,329.6v1.6M306.29,444.3v-1.6M306.29,329.6v1.6M326.44,444.3v-1.6M326.44,329.6v1.6M205.5,432.83h1.6M346.6,432.83h-1.6M205.5,421.36h1.6M346.6,421.36h-1.6M205.5,409.89h1.6M346.6,409.89h-1.6M205.5,398.42h1.6M346.6,398.42h-1.6M205.5,386.95h1.6M346.6,386.95h-1.6M205.5,375.48h1.6M346.6,375.48h-1.6M205.5,364.01h1.6M346.6,364.01h-1.6M205.5,352.54h1.6M346.6,352.54h-1.6M205.5,341.07h1.6M346.6,341.07h-1.6" stroke="#6e6e6e" stroke-width="0.9" fill="none"/>
<text x="205.5" y="452.9" class="t" text-anchor="middle">0</text>
<text x="225.66" y="452.9" class="t" text-anchor="middle">10</text>
<text x="245.81" y="452.9" class="t" text-anchor="middle">20</text>
<text x="265.97" y="452.9" class="t" text-anchor="middle">30</text>
<text x="286.13" y="452.9" class="t" text-anchor="middle">40</text>
<text x="306.29" y="452.9" class="t" text-anchor="middle">50</text>
<text x="326.44" y="452.9" class="t" text-anchor="middle">60</text>
<text x="346.6" y="452.9" class="t" text-anchor="middle">70</text>
<text x="202.5" y="446.9" class="t" text-anchor="end">−5</text>
<text x="202.5" y="435.43" class="t" text-anchor="end">−4</text>
<text x="202.5" y="423.96" class="t" text-anchor="end">−3</text>
<text x="202.5" y="412.49" class="t" text-anchor="end">−2</text>
<text x="202.5" y="401.02" class="t" text-anchor="end">−1</text>
<text x="202.5" y="389.55" class="t" text-anchor="end">0</text>
<text x="202.5" y="378.08" class="t" text-anchor="end">1</text>
<text x="202.5" y="366.61" class="t" text-anchor="end">2</text>
<text x="202.5" y="355.14" class="t" text-anchor="end">3</text>
<text x="202.5" y="343.67" class="t" text-anchor="end">4</text>
<text x="202.5" y="332.2" class="t" text-anchor="end">5</text>
<text x="274.85" y="462.9" class="k">k</text>
<text x="181.5" y="323.9" class="lab">(<tspan font-style="italic" dx="0.9">f</tspan><tspan dx="1.2">)</tspan></text>
<text transform="translate(187.9,385.95) rotate(-90)" class="al" text-anchor="middle">α<tspan class="sub" dy="1.8">imag</tspan></text>
</svg></body></html>
